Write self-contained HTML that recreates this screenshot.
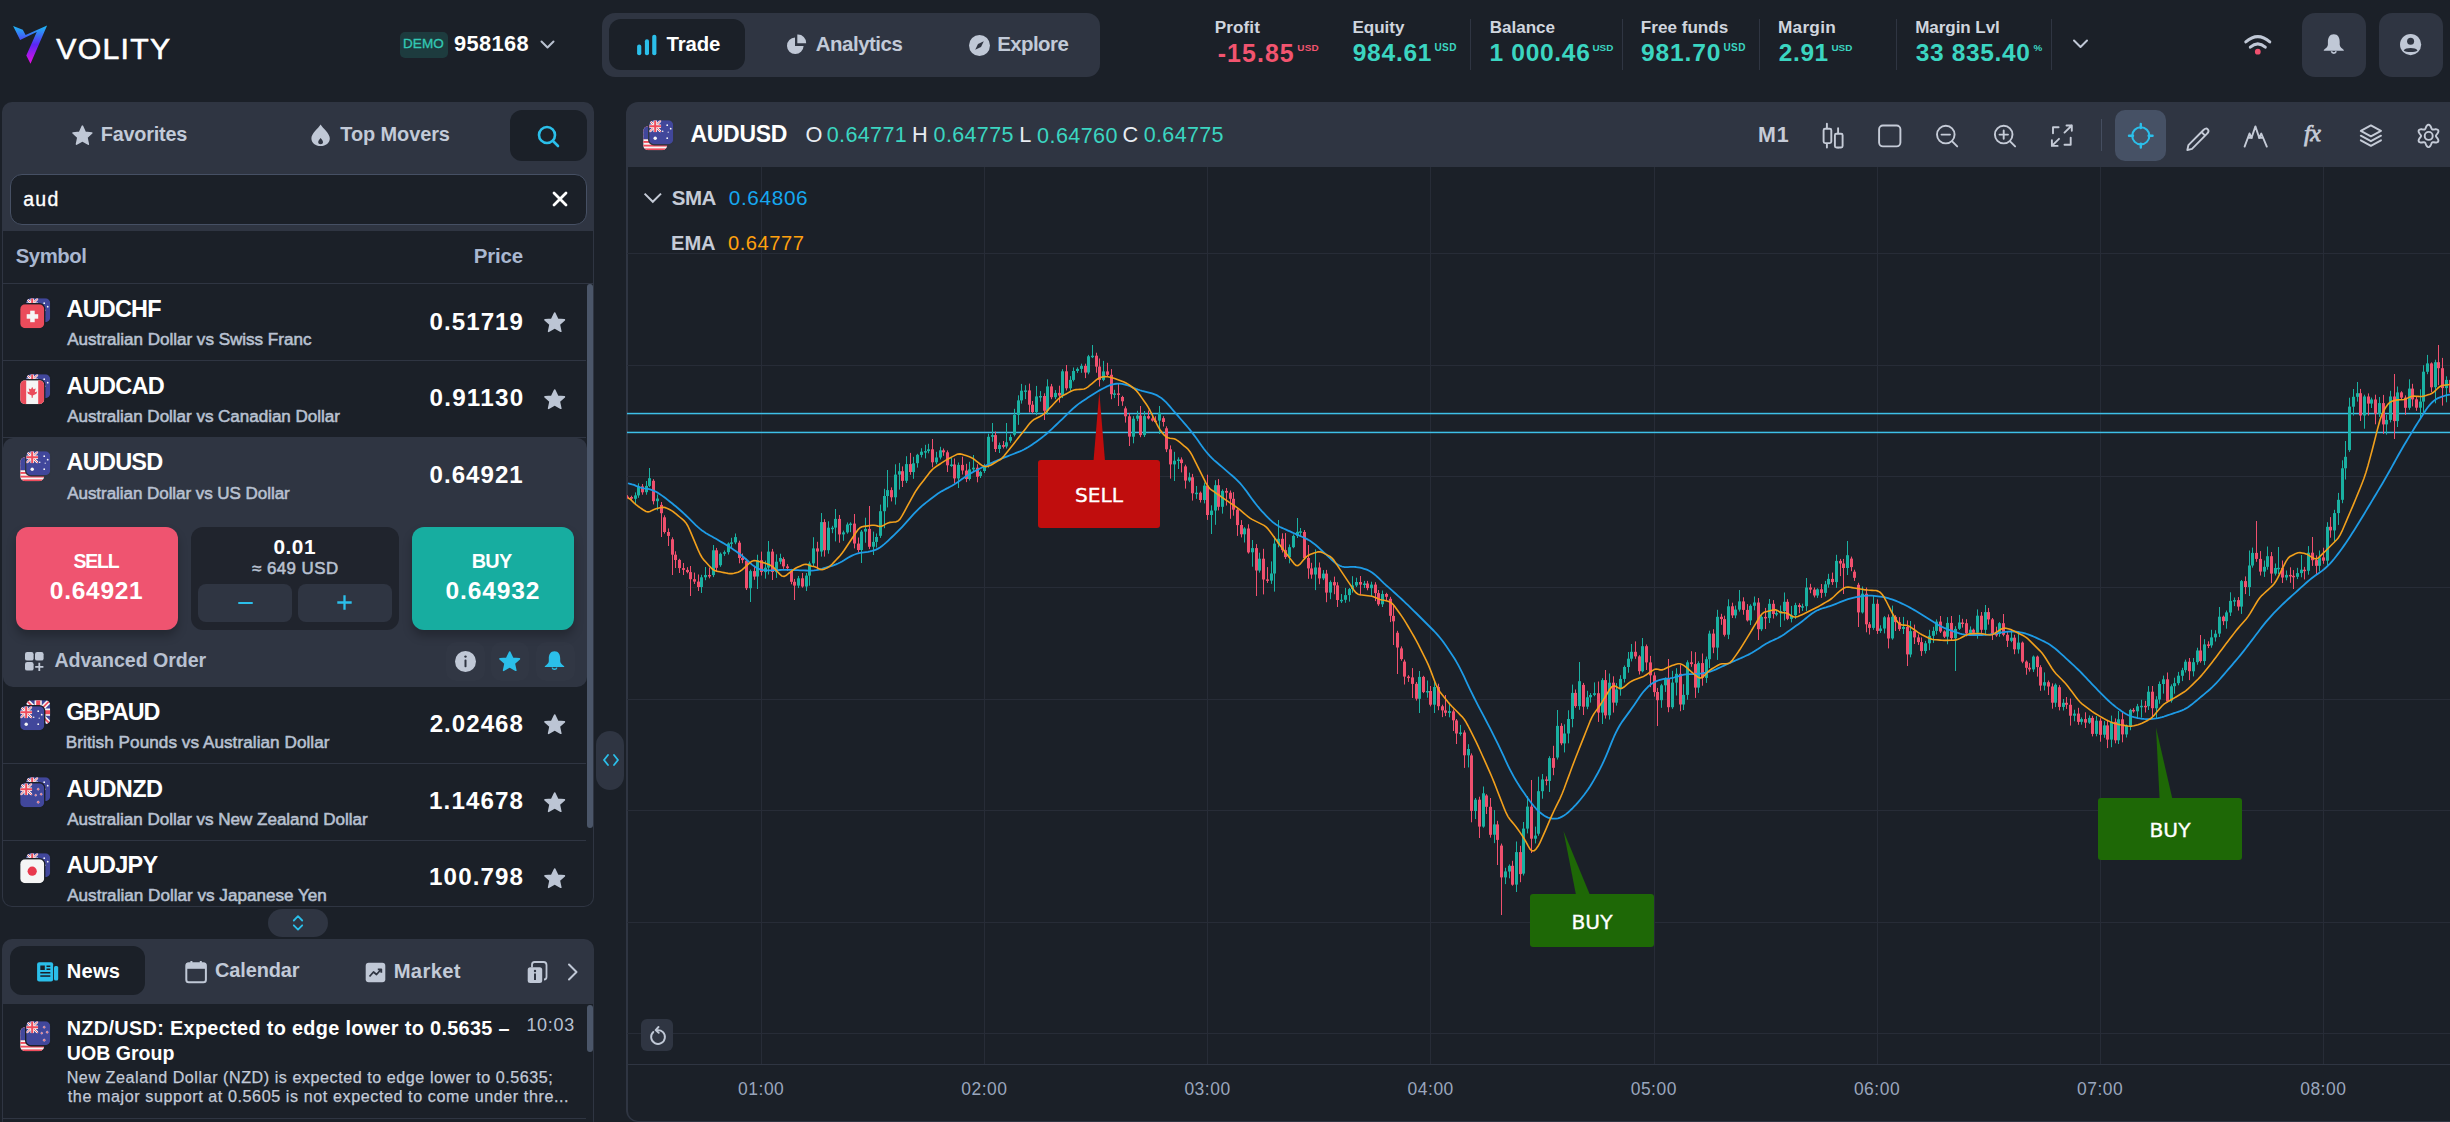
<!DOCTYPE html>
<html><head><meta charset="utf-8"><title>Volity</title><style>*{margin:0;padding:0;box-sizing:border-box}
html,body{width:2450px;height:1122px;overflow:hidden;background:#1b2028}
body{position:relative;font-family:'Liberation Sans',Arial,sans-serif}
.t{position:absolute;white-space:nowrap;line-height:1}
.b{position:absolute}
.i{position:absolute;overflow:visible}
</style></head>
<body>
<svg class="i" style="left:12px;top:24px;" width="37" height="41" viewBox="0 0 37 41"><defs><linearGradient id="lg" x1="0" y1="0" x2="0" y2="1"><stop offset="0" stop-color="#1bbcf5"/><stop offset="0.5" stop-color="#5b25f5"/><stop offset="1" stop-color="#e80ee0"/></linearGradient></defs><path d="M1.1,1.9 L10.8,5.7 L13.6,10.9 L35.1,1.6 L18.5,39.7 L14.3,31.4 L24.7,8.1 L8.1,16.1 Z" fill="url(#lg)"/></svg>
<div class="t" style="left:56.3px;top:33.8px;font-size:30.18px;color:#fff;letter-spacing:1.31px;-webkit-text-stroke:0.6px #fff;">VOLITY</div>
<div class="b" style="left:400px;top:32px;width:48px;height:26px;background:#1d3b3e;border-radius:5px;"></div>
<div class="t" style="left:402.9px;top:37.4px;font-size:13.53px;color:#33c9b4;letter-spacing:0.12px;-webkit-text-stroke:0.3px #33c9b4;">DEMO</div>
<div class="t" style="left:453.9px;top:32.9px;font-size:21.83px;color:#fff;font-weight:700;letter-spacing:0.36px;">958168</div>
<svg class="i" style="left:540px;top:40px;" width="16" height="10" viewBox="0 0 16 10"><path d="M1.5,1.5 L7.5,7.5 L13.5,1.5" fill="none" stroke="#b9c1d0" stroke-width="2" stroke-linecap="round" stroke-linejoin="round"/></svg>
<div class="b" style="left:602px;top:13px;width:498px;height:64px;background:#2f3542;border-radius:13px;"></div>
<div class="b" style="left:609px;top:19px;width:136px;height:51px;background:#1b2028;border-radius:12px;"></div>
<svg class="i" style="left:636px;top:34px;" width="22" height="22" viewBox="0 0 22 22"><g fill="#2bbfea"><rect x="1.1" y="10.4" width="4.2" height="10.9" rx="2.1"/><rect x="8.9" y="5.3" width="4.1" height="16" rx="2"/><rect x="16.2" y="0.7" width="4.2" height="20.6" rx="2.1"/></g></svg>
<div class="t" style="left:666.6px;top:33.8px;font-size:20.33px;color:#fff;font-weight:700;letter-spacing:-0.16px;">Trade</div>
<svg class="i" style="left:785px;top:33px;" width="24" height="24" viewBox="0 0 24 24"><path d="M10,4.5 A8.3,8.3 0 1 0 18.6,13.1 L10,13.1 Z" fill="#c0c8d6"/><path d="M12.3,1.5 A8.3,8.3 0 0 1 21.2,10.3 L12.3,10.3 Z" fill="#c0c8d6"/></svg>
<div class="t" style="left:815.8px;top:33.5px;font-size:20.47px;color:#c2cad8;font-weight:700;letter-spacing:-0.49px;">Analytics</div>
<svg class="i" style="left:968px;top:34px;" width="23" height="23" viewBox="0 0 23 23"><circle cx="11.5" cy="11.5" r="10.5" fill="#c0c8d6"/><path d="M15.8,7.2 L13,13 L7.2,15.8 L10,10 Z" fill="#2f3542"/></svg>
<div class="t" style="left:997.2px;top:33.5px;font-size:20.45px;color:#c2cad8;font-weight:700;letter-spacing:-0.57px;">Explore</div>
<div class="t" style="left:1214.7px;top:19.3px;font-size:17.17px;color:#d0d5de;font-weight:700;letter-spacing:0.08px;">Profit</div>
<div class="t" style="left:1217.7px;top:41.1px;font-size:24.86px;color:#f2546f;font-weight:700;letter-spacing:1.09px;">-15.85</div>
<div class="t" style="left:1297.3px;top:42.6px;font-size:9.93px;color:#f2546f;font-weight:700;letter-spacing:0.17px;">USD</div>
<div class="t" style="left:1352.5px;top:19.4px;font-size:17.07px;color:#d0d5de;font-weight:700;letter-spacing:-0.05px;">Equity</div>
<div class="t" style="left:1352.7px;top:41.3px;font-size:24.57px;color:#3bd5c1;font-weight:700;letter-spacing:0.74px;">984.61</div>
<div class="t" style="left:1434.4px;top:42.5px;font-size:10.03px;color:#3bd5c1;font-weight:700;letter-spacing:0.42px;">USD</div>
<div class="t" style="left:1489.7px;top:19.4px;font-size:17.08px;color:#d0d5de;font-weight:700;letter-spacing:-0.03px;">Balance</div>
<div class="t" style="left:1489.5px;top:41.3px;font-size:24.57px;color:#3bd5c1;font-weight:700;letter-spacing:0.68px;">1 000.46</div>
<div class="t" style="left:1592.4px;top:42.6px;font-size:9.88px;color:#3bd5c1;font-weight:700;letter-spacing:0.07px;">USD</div>
<div class="t" style="left:1640.8px;top:19.4px;font-size:17.11px;color:#d0d5de;font-weight:700;">Free funds</div>
<div class="t" style="left:1641.1px;top:41.3px;font-size:24.61px;color:#3bd5c1;font-weight:700;letter-spacing:0.81px;">981.70</div>
<div class="t" style="left:1723.4px;top:42.5px;font-size:10.03px;color:#3bd5c1;font-weight:700;letter-spacing:0.42px;">USD</div>
<div class="t" style="left:1778.0px;top:19.3px;font-size:17.26px;color:#d0d5de;font-weight:700;letter-spacing:0.23px;">Margin</div>
<div class="t" style="left:1778.8px;top:41.3px;font-size:24.46px;color:#3bd5c1;font-weight:700;letter-spacing:0.60px;">2.91</div>
<div class="t" style="left:1831.4px;top:42.6px;font-size:9.88px;color:#3bd5c1;font-weight:700;letter-spacing:0.07px;">USD</div>
<div class="t" style="left:1915.2px;top:19.4px;font-size:17.05px;color:#d0d5de;font-weight:700;letter-spacing:-0.06px;">Margin Lvl</div>
<div class="t" style="left:1915.7px;top:41.3px;font-size:24.53px;color:#3bd5c1;font-weight:700;letter-spacing:0.63px;">33 835.40</div>
<div class="t" style="left:2033.5px;top:42.6px;font-size:9.86px;color:#3bd5c1;font-weight:700;">%</div>
<div class="b" style="left:1470px;top:19px;width:1px;height:51px;background:#2f3542;"></div>
<div class="b" style="left:1622px;top:19px;width:1px;height:51px;background:#2f3542;"></div>
<div class="b" style="left:1759px;top:19px;width:1px;height:51px;background:#2f3542;"></div>
<div class="b" style="left:1896px;top:19px;width:1px;height:51px;background:#2f3542;"></div>
<div class="b" style="left:2051px;top:19px;width:1px;height:51px;background:#2f3542;"></div>
<svg class="i" style="left:2072px;top:38px;" width="17" height="13" viewBox="0 0 17 13"><path d="M2,2.5 L8.5,9 L15,2.5" fill="none" stroke="#c0c8d6" stroke-width="2" stroke-linecap="round" stroke-linejoin="round"/></svg>
<svg class="i" style="left:2242px;top:33px;" width="32" height="24" viewBox="0 0 32 24"><path d="M3.8,8.9 Q15.8,-1.6 27.8,8.9" fill="none" stroke="#c0c8d6" stroke-width="3" stroke-linecap="round"/><path d="M8.3,14.2 Q15.8,7.6 23.3,14.2" fill="none" stroke="#c0c8d6" stroke-width="3" stroke-linecap="round"/><circle cx="15.8" cy="18.7" r="2.9" fill="#f0506e"/></svg>
<div class="b" style="left:2302px;top:13px;width:64px;height:64px;background:#2f3542;border-radius:13px;"></div>
<div class="b" style="left:2379px;top:13px;width:64px;height:64px;background:#2f3542;border-radius:13px;"></div>
<svg class="i" style="left:2322px;top:33px;" width="24" height="24" viewBox="0 0 24 24"><path d="M11.8,1.2 C16,1.2 17.7,4.7 17.7,8.8 L17.7,11.8 C17.7,14 20.2,15.6 21.8,16.9 L21.8,17.8 L1.8,17.8 L1.8,16.9 C3.4,15.6 5.9,14 5.9,11.8 L5.9,8.8 C5.9,4.7 7.6,1.2 11.8,1.2 Z" fill="#c0c8d6"/><path d="M9.4,18.3 A2.5,2.5 0 0 0 14.2,18.3" fill="none" stroke="#c0c8d6" stroke-width="1.6"/></svg>
<svg class="i" style="left:2399px;top:33px;" width="24" height="24" viewBox="0 0 24 24"><circle cx="11.6" cy="11.6" r="10.6" fill="#c0c8d6"/><circle cx="11.6" cy="8.3" r="3.5" fill="#2f3542"/><path d="M4.7,17.5 C6.5,14.3 16.7,14.3 18.5,17.5 C16.5,19.6 6.7,19.6 4.7,17.5 Z" fill="#2f3542"/></svg>
<div class="b" style="left:2px;top:102px;width:592px;height:805px;background:#2f3542;border-radius:10px;"></div>
<div class="b" style="left:3px;top:231px;width:590px;height:675px;background:#1b2028;border-radius:0 0 9px 9px;"></div>
<svg class="i" style="left:71px;top:125px;" width="24" height="22" viewBox="0 0 24 22"><path d="M11.4,1.2 L14.2,7.3 L20.8,8 L15.9,12.5 L17.3,19.1 L11.4,15.7 L5.5,19.1 L6.9,12.5 L2,8 L8.6,7.3 Z" fill="#c0c8d6" stroke="#c0c8d6" stroke-width="1.6" stroke-linejoin="round"/></svg>
<div class="t" style="left:100.8px;top:125.0px;font-size:19.83px;color:#c2cad8;font-weight:700;letter-spacing:-0.21px;">Favorites</div>
<svg class="i" style="left:310px;top:124px;" width="22" height="23" viewBox="0 0 22 23"><path d="M10.6,0.5 C13,4.5 19.8,9.5 19.8,14.2 C19.8,19 15.8,22 10.6,22 C5.4,22 1.4,19 1.4,14.2 C1.4,9.5 8.2,4.5 10.6,0.5 Z" fill="#c0c8d6"/><path d="M10.6,14 C11.6,15.5 13,16.6 13,18.3 C13,19.5 12,20.2 10.6,20.2 C9.2,20.2 8.2,19.5 8.2,18.3 C8.2,16.6 9.6,15.5 10.6,14 Z" fill="#2f3542"/></svg>
<div class="t" style="left:340.3px;top:124.9px;font-size:19.94px;color:#c2cad8;font-weight:700;letter-spacing:-0.09px;">Top Movers</div>
<div class="b" style="left:510px;top:110px;width:77px;height:51px;background:#1b2028;border-radius:12px;"></div>
<svg class="i" style="left:536px;top:124px;" width="26" height="26" viewBox="0 0 26 26"><circle cx="11" cy="11" r="8" fill="none" stroke="#2bbfea" stroke-width="2.6"/><path d="M17,17 L22,22" stroke="#2bbfea" stroke-width="2.6" stroke-linecap="round"/></svg>
<div class="b" style="left:10px;top:174px;width:577px;height:51px;background:#1b2028;border-radius:12px;box-sizing:border-box;border:1px solid #465064;"></div>
<div class="t" style="left:23.2px;top:189.5px;font-size:19.50px;color:#fff;letter-spacing:1.34px;-webkit-text-stroke:0.35px #fff;">aud</div>
<svg class="i" style="left:551px;top:190px;" width="18" height="18" viewBox="0 0 18 18"><path d="M3,3 L15,15 M15,3 L3,15" stroke="#fff" stroke-width="2.8" stroke-linecap="round"/></svg>
<div class="t" style="left:15.8px;top:245.7px;font-size:20.30px;color:#a9b7d0;font-weight:700;letter-spacing:-0.45px;">Symbol</div>
<div class="t" style="left:473.7px;top:245.7px;font-size:20.48px;color:#a9b7d0;font-weight:700;letter-spacing:-0.13px;">Price</div>
<div class="b" style="left:3px;top:283px;width:590px;height:1px;background:#2f3542;"></div>
<div class="b" style="left:3px;top:360px;width:583px;height:1px;background:#2f3542;"></div>
<div class="b" style="left:3px;top:437px;width:583px;height:1px;background:#2f3542;"></div>
<div class="b" style="left:3px;top:763px;width:583px;height:1px;background:#2f3542;"></div>
<div class="b" style="left:3px;top:840px;width:583px;height:1px;background:#2f3542;"></div>
<div class="b" style="left:587px;top:284px;width:6px;height:544px;background:#4b5669;border-radius:3px;"></div>
<svg class="i" style="left:18.8px;top:296.8px" width="33" height="33" viewBox="0 0 33 33"><rect x="6.0" y="0.0" width="26.4" height="26.4" rx="6" fill="#1b2028"/><clipPath id="fc1"><rect x="0" y="0" width="24" height="24" rx="5"/></clipPath><g transform="translate(7.2,1.2)" clip-path="url(#fc1)"><rect width="24" height="24" fill="#41479b"/><svg width="12" height="12" viewBox="0 0 12 12" overflow="hidden"><rect width="12" height="12" fill="#41479b"/><path d="M0,0 L12,12 M12,0 L0,12" stroke="#f5f5f5" stroke-width="2.40"/><path d="M0,0 L12,12 M12,0 L0,12" stroke="#ef4b5b" stroke-width="0.84"/><path d="M6.0,0 V12 M0,6.0 H12" stroke="#f5f5f5" stroke-width="3.60"/><path d="M6.0,0 V12 M0,6.0 H12" stroke="#ef4b5b" stroke-width="2.04"/></svg><g fill="#f5f5f5"><circle cx="6" cy="18" r="1.7"/><circle cx="18" cy="5" r="0.9"/><circle cx="21.5" cy="8.5" r="0.9"/><circle cx="13.5" cy="11" r="0.8"/><circle cx="19" cy="12" r="0.6"/><circle cx="18" cy="18" r="0.9"/></g></g><rect x="0.0" y="6.0" width="26.4" height="26.4" rx="6" fill="#1b2028"/><clipPath id="fc2"><rect x="0" y="0" width="24" height="24" rx="5"/></clipPath><g transform="translate(1.2,7.2)" clip-path="url(#fc2)"><rect width="24" height="24" fill="#ea4c5b"/><rect x="6.5" y="10" width="11.5" height="4.5" fill="#f5f5f5"/><rect x="10" y="6.5" width="4.5" height="11.5" fill="#f5f5f5"/></g></svg>
<div class="t" style="left:66.6px;top:298.0px;font-size:23.48px;color:#fff;font-weight:700;letter-spacing:-0.82px;">AUDCHF</div>
<div class="t" style="left:67.2px;top:331.4px;font-size:17.08px;color:#b8c1d1;letter-spacing:-0.02px;-webkit-text-stroke:0.55px #b8c1d1;">Australian Dollar vs Swiss Franc</div>
<div class="t" style="left:429.5px;top:309.6px;font-size:24.13px;color:#fff;font-weight:700;letter-spacing:1.05px;">0.51719</div>
<svg class="i" style="left:543px;top:311px;" width="24" height="23" viewBox="0 0 24 23"><path d="M11.7,2 L14.6,8.2 L21.4,8.9 L16.3,13.5 L17.8,20.3 L11.7,16.8 L5.6,20.3 L7.1,13.5 L2,8.9 L8.8,8.2 Z" fill="#bcc5d4" stroke="#bcc5d4" stroke-width="1.6" stroke-linejoin="round"/></svg>
<svg class="i" style="left:18.8px;top:373.40000000000003px" width="33" height="33" viewBox="0 0 33 33"><rect x="6.0" y="0.0" width="26.4" height="26.4" rx="6" fill="#1b2028"/><clipPath id="fc3"><rect x="0" y="0" width="24" height="24" rx="5"/></clipPath><g transform="translate(7.2,1.2)" clip-path="url(#fc3)"><rect width="24" height="24" fill="#41479b"/><svg width="12" height="12" viewBox="0 0 12 12" overflow="hidden"><rect width="12" height="12" fill="#41479b"/><path d="M0,0 L12,12 M12,0 L0,12" stroke="#f5f5f5" stroke-width="2.40"/><path d="M0,0 L12,12 M12,0 L0,12" stroke="#ef4b5b" stroke-width="0.84"/><path d="M6.0,0 V12 M0,6.0 H12" stroke="#f5f5f5" stroke-width="3.60"/><path d="M6.0,0 V12 M0,6.0 H12" stroke="#ef4b5b" stroke-width="2.04"/></svg><g fill="#f5f5f5"><circle cx="6" cy="18" r="1.7"/><circle cx="18" cy="5" r="0.9"/><circle cx="21.5" cy="8.5" r="0.9"/><circle cx="13.5" cy="11" r="0.8"/><circle cx="19" cy="12" r="0.6"/><circle cx="18" cy="18" r="0.9"/></g></g><rect x="0.0" y="6.0" width="26.4" height="26.4" rx="6" fill="#1b2028"/><clipPath id="fc4"><rect x="0" y="0" width="24" height="24" rx="5"/></clipPath><g transform="translate(1.2,7.2)" clip-path="url(#fc4)"><rect width="24" height="24" fill="#f5f5f5"/><rect width="6" height="24" fill="#ea4c5b"/><rect x="18" width="6" height="24" fill="#ea4c5b"/><path d="M12,6.5 L13.2,9 L15.5,8.2 L14.6,12 L17,11.2 L16.2,13.5 L12.6,15.2 L12.6,17.5 L11.4,17.5 L11.4,15.2 L7.8,13.5 L7,11.2 L9.4,12 L8.5,8.2 L10.8,9 Z" fill="#ea4c5b"/></g></svg>
<div class="t" style="left:66.6px;top:374.6px;font-size:23.52px;color:#fff;font-weight:700;letter-spacing:-0.76px;">AUDCAD</div>
<div class="t" style="left:67.2px;top:408.0px;font-size:17.07px;color:#b8c1d1;letter-spacing:-0.04px;-webkit-text-stroke:0.55px #b8c1d1;">Australian Dollar vs Canadian Dollar</div>
<div class="t" style="left:429.5px;top:386.2px;font-size:24.25px;color:#fff;font-weight:700;letter-spacing:1.22px;">0.91130</div>
<svg class="i" style="left:543px;top:387.6px;" width="24" height="23" viewBox="0 0 24 23"><path d="M11.7,2 L14.6,8.2 L21.4,8.9 L16.3,13.5 L17.8,20.3 L11.7,16.8 L5.6,20.3 L7.1,13.5 L2,8.9 L8.8,8.2 Z" fill="#bcc5d4" stroke="#bcc5d4" stroke-width="1.6" stroke-linejoin="round"/></svg>
<div class="b" style="left:3px;top:438px;width:584px;height:249px;background:#2f3542;border-radius:10px;"></div>
<svg class="i" style="left:18.8px;top:450.0px" width="33" height="33" viewBox="0 0 33 33"><rect x="0.0" y="6.0" width="26.4" height="26.4" rx="6" fill="#2f3542"/><clipPath id="fc5"><rect x="0" y="0" width="24" height="24" rx="5"/></clipPath><g transform="translate(1.2,7.2)" clip-path="url(#fc5)"><rect width="24" height="24" fill="#f5f5f5"/><rect y="0.00" width="24" height="1.85" fill="#ef4b5b"/><rect y="3.70" width="24" height="1.85" fill="#ef4b5b"/><rect y="7.40" width="24" height="1.85" fill="#ef4b5b"/><rect y="11.10" width="24" height="1.85" fill="#ef4b5b"/><rect y="14.80" width="24" height="1.85" fill="#ef4b5b"/><rect y="18.50" width="24" height="1.85" fill="#ef4b5b"/><rect y="22.20" width="24" height="1.85" fill="#ef4b5b"/><rect width="11" height="13" fill="#41479b"/></g><rect x="6.0" y="0.0" width="26.4" height="26.4" rx="6" fill="#2f3542"/><clipPath id="fc6"><rect x="0" y="0" width="24" height="24" rx="5"/></clipPath><g transform="translate(7.2,1.2)" clip-path="url(#fc6)"><rect width="24" height="24" fill="#41479b"/><svg width="12" height="12" viewBox="0 0 12 12" overflow="hidden"><rect width="12" height="12" fill="#41479b"/><path d="M0,0 L12,12 M12,0 L0,12" stroke="#f5f5f5" stroke-width="2.40"/><path d="M0,0 L12,12 M12,0 L0,12" stroke="#ef4b5b" stroke-width="0.84"/><path d="M6.0,0 V12 M0,6.0 H12" stroke="#f5f5f5" stroke-width="3.60"/><path d="M6.0,0 V12 M0,6.0 H12" stroke="#ef4b5b" stroke-width="2.04"/></svg><g fill="#f5f5f5"><circle cx="6" cy="18" r="1.7"/><circle cx="18" cy="5" r="0.9"/><circle cx="21.5" cy="8.5" r="0.9"/><circle cx="13.5" cy="11" r="0.8"/><circle cx="19" cy="12" r="0.6"/><circle cx="18" cy="18" r="0.9"/></g></g></svg>
<div class="t" style="left:66.6px;top:451.2px;font-size:23.50px;color:#fff;font-weight:700;letter-spacing:-0.79px;">AUDUSD</div>
<div class="t" style="left:67.2px;top:484.6px;font-size:17.04px;color:#b8c1d1;letter-spacing:-0.06px;-webkit-text-stroke:0.55px #b8c1d1;">Australian Dollar vs US Dollar</div>
<div class="t" style="left:429.5px;top:462.9px;font-size:24.11px;color:#fff;font-weight:700;letter-spacing:1.02px;">0.64921</div>
<div class="b" style="left:16px;top:527px;width:162px;height:103px;background:#ef5470;border-radius:12px;box-shadow:0 6px 10px rgba(0,0,0,0.25);"></div>
<div class="t" style="left:73.6px;top:552.4px;font-size:19.47px;color:#fff;font-weight:700;letter-spacing:-1.23px;">SELL</div>
<div class="t" style="left:49.8px;top:578.7px;font-size:24.49px;color:#fff;font-weight:700;letter-spacing:0.74px;">0.64921</div>
<div class="b" style="left:191px;top:527px;width:208px;height:103px;background:#20242d;border-radius:12px;"></div>
<div class="t" style="left:273.4px;top:537.0px;font-size:20.80px;color:#fff;font-weight:700;letter-spacing:0.57px;">0.01</div>
<div class="t" style="left:252.0px;top:560.7px;font-size:16.85px;color:#b8c1d1;letter-spacing:0.48px;-webkit-text-stroke:0.55px #b8c1d1;">≈ 649 USD</div>
<div class="b" style="left:198px;top:584px;width:94px;height:38px;background:#2f3542;border-radius:8px;"></div>
<div class="b" style="left:298px;top:584px;width:94px;height:38px;background:#2f3542;border-radius:8px;"></div>
<div class="b" style="left:238px;top:601.5px;width:15px;height:2.2999999999999545px;background:#2bbfea;border-radius:1px;"></div>
<svg class="i" style="left:336px;top:594px;" width="17" height="17" viewBox="0 0 17 17"><path d="M1.3,8.5 H15.7 M8.5,1.3 V15.7" stroke="#2bbfea" stroke-width="2.3"/></svg>
<div class="b" style="left:412px;top:527px;width:162px;height:103px;background:#17ada0;border-radius:12px;box-shadow:0 6px 10px rgba(0,0,0,0.25);"></div>
<div class="t" style="left:471.7px;top:552.2px;font-size:19.86px;color:#fff;font-weight:700;letter-spacing:-0.66px;">BUY</div>
<div class="t" style="left:445.6px;top:578.6px;font-size:24.56px;color:#fff;font-weight:700;letter-spacing:0.85px;">0.64932</div>
<svg class="i" style="left:24px;top:651px;" width="22" height="22" viewBox="0 0 22 22"><g fill="#c0c8d6"><rect x="1" y="1" width="8.6" height="8.6" rx="2.2"/><rect x="11" y="1" width="8.6" height="8.6" rx="2.2"/><rect x="1" y="11" width="8.6" height="8.6" rx="2.2"/></g><path d="M15.3,11.8 V20 M11.2,15.9 H19.4" stroke="#c0c8d6" stroke-width="1.8"/></svg>
<div class="t" style="left:54.4px;top:651.3px;font-size:19.65px;color:#b8c1d1;font-weight:700;letter-spacing:-0.08px;">Advanced Order</div>
<div class="b" style="left:446px;top:642px;width:39px;height:39px;background:rgba(255,255,255,0.012);border-radius:10px;"></div>
<div class="b" style="left:491px;top:642px;width:38px;height:39px;background:rgba(255,255,255,0.012);border-radius:10px;"></div>
<div class="b" style="left:536px;top:642px;width:39px;height:39px;background:rgba(255,255,255,0.012);border-radius:10px;"></div>
<svg class="i" style="left:454px;top:650px;" width="23" height="23" viewBox="0 0 23 23"><circle cx="11.5" cy="11.5" r="10.5" fill="#c0c8d6"/><rect x="10.5" y="9.6" width="2" height="7.6" rx="0.8" fill="#2f3542"/><circle cx="11.5" cy="6.6" r="1.2" fill="#2f3542"/></svg>
<svg class="i" style="left:498px;top:650px;" width="24" height="23" viewBox="0 0 24 23"><path d="M11.7,2 L14.6,8.2 L21.4,8.9 L16.3,13.5 L17.8,20.3 L11.7,16.8 L5.6,20.3 L7.1,13.5 L2,8.9 L8.8,8.2 Z" fill="#2bbfea" stroke="#2bbfea" stroke-width="1.6" stroke-linejoin="round"/></svg>
<svg class="i" style="left:543px;top:650px;" width="23" height="23" viewBox="0 0 23 23"><path d="M11.5,1.2 C15.6,1.2 17.2,4.6 17.2,8.6 L17.2,11.3 C17.2,13.4 19.6,14.9 21.2,16.2 L21.2,17.1 L1.8,17.1 L1.8,16.2 C3.4,14.9 5.8,13.4 5.8,11.3 L5.8,8.6 C5.8,4.6 7.4,1.2 11.5,1.2 Z" fill="#2bbfea"/><path d="M9.2,17.6 A2.4,2.4 0 0 0 13.8,17.6" fill="none" stroke="#2bbfea" stroke-width="1.5"/></svg>
<svg class="i" style="left:18.8px;top:699.1999999999999px" width="33" height="33" viewBox="0 0 33 33"><rect x="6.0" y="0.0" width="26.4" height="26.4" rx="6" fill="#1b2028"/><clipPath id="fc7"><rect x="0" y="0" width="24" height="24" rx="5"/></clipPath><g transform="translate(7.2,1.2)" clip-path="url(#fc7)"><rect width="24" height="24" fill="#41479b"/><path d="M0,0 L24,24 M24,0 L0,24" stroke="#f5f5f5" stroke-width="4.80"/><path d="M0,0 L24,24 M24,0 L0,24" stroke="#ef4b5b" stroke-width="1.68"/><path d="M12.0,0 V24 M0,12.0 H24" stroke="#f5f5f5" stroke-width="7.20"/><path d="M12.0,0 V24 M0,12.0 H24" stroke="#ef4b5b" stroke-width="4.08"/></g><rect x="0.0" y="6.0" width="26.4" height="26.4" rx="6" fill="#1b2028"/><clipPath id="fc8"><rect x="0" y="0" width="24" height="24" rx="5"/></clipPath><g transform="translate(1.2,7.2)" clip-path="url(#fc8)"><rect width="24" height="24" fill="#41479b"/><svg width="12" height="12" viewBox="0 0 12 12" overflow="hidden"><rect width="12" height="12" fill="#41479b"/><path d="M0,0 L12,12 M12,0 L0,12" stroke="#f5f5f5" stroke-width="2.40"/><path d="M0,0 L12,12 M12,0 L0,12" stroke="#ef4b5b" stroke-width="0.84"/><path d="M6.0,0 V12 M0,6.0 H12" stroke="#f5f5f5" stroke-width="3.60"/><path d="M6.0,0 V12 M0,6.0 H12" stroke="#ef4b5b" stroke-width="2.04"/></svg><g fill="#f5f5f5"><circle cx="6" cy="18" r="1.7"/><circle cx="18" cy="5" r="0.9"/><circle cx="21.5" cy="8.5" r="0.9"/><circle cx="13.5" cy="11" r="0.8"/><circle cx="19" cy="12" r="0.6"/><circle cx="18" cy="18" r="0.9"/></g></g></svg>
<div class="t" style="left:66.3px;top:700.5px;font-size:23.33px;color:#fff;font-weight:700;letter-spacing:-1.08px;">GBPAUD</div>
<div class="t" style="left:65.8px;top:733.7px;font-size:17.15px;color:#b8c1d1;letter-spacing:0.05px;-webkit-text-stroke:0.55px #b8c1d1;">British Pounds vs Australian Dollar</div>
<div class="t" style="left:429.7px;top:712.1px;font-size:24.11px;color:#fff;font-weight:700;letter-spacing:1.02px;">2.02468</div>
<svg class="i" style="left:543px;top:713.4px;" width="24" height="23" viewBox="0 0 24 23"><path d="M11.7,2 L14.6,8.2 L21.4,8.9 L16.3,13.5 L17.8,20.3 L11.7,16.8 L5.6,20.3 L7.1,13.5 L2,8.9 L8.8,8.2 Z" fill="#bcc5d4" stroke="#bcc5d4" stroke-width="1.6" stroke-linejoin="round"/></svg>
<svg class="i" style="left:18.8px;top:776.4px" width="33" height="33" viewBox="0 0 33 33"><rect x="6.0" y="0.0" width="26.4" height="26.4" rx="6" fill="#1b2028"/><clipPath id="fc9"><rect x="0" y="0" width="24" height="24" rx="5"/></clipPath><g transform="translate(7.2,1.2)" clip-path="url(#fc9)"><rect width="24" height="24" fill="#41479b"/><svg width="12" height="12" viewBox="0 0 12 12" overflow="hidden"><rect width="12" height="12" fill="#41479b"/><path d="M0,0 L12,12 M12,0 L0,12" stroke="#f5f5f5" stroke-width="2.40"/><path d="M0,0 L12,12 M12,0 L0,12" stroke="#ef4b5b" stroke-width="0.84"/><path d="M6.0,0 V12 M0,6.0 H12" stroke="#f5f5f5" stroke-width="3.60"/><path d="M6.0,0 V12 M0,6.0 H12" stroke="#ef4b5b" stroke-width="2.04"/></svg><g fill="#f5f5f5"><circle cx="6" cy="18" r="1.7"/><circle cx="18" cy="5" r="0.9"/><circle cx="21.5" cy="8.5" r="0.9"/><circle cx="13.5" cy="11" r="0.8"/><circle cx="19" cy="12" r="0.6"/><circle cx="18" cy="18" r="0.9"/></g></g><rect x="0.0" y="6.0" width="26.4" height="26.4" rx="6" fill="#1b2028"/><clipPath id="fc10"><rect x="0" y="0" width="24" height="24" rx="5"/></clipPath><g transform="translate(1.2,7.2)" clip-path="url(#fc10)"><rect width="24" height="24" fill="#41479b"/><svg width="12" height="12" viewBox="0 0 12 12" overflow="hidden"><rect width="12" height="12" fill="#41479b"/><path d="M0,0 L12,12 M12,0 L0,12" stroke="#f5f5f5" stroke-width="2.40"/><path d="M0,0 L12,12 M12,0 L0,12" stroke="#ef4b5b" stroke-width="0.84"/><path d="M6.0,0 V12 M0,6.0 H12" stroke="#f5f5f5" stroke-width="3.60"/><path d="M6.0,0 V12 M0,6.0 H12" stroke="#ef4b5b" stroke-width="2.04"/></svg><g fill="#ef4b5b" stroke="#f5f5f5" stroke-width="0.5"><circle cx="18" cy="6" r="1"/><circle cx="21" cy="11" r="1"/><circle cx="15.5" cy="12" r="0.9"/><circle cx="18" cy="19" r="1.1"/></g></g></svg>
<div class="t" style="left:66.6px;top:777.5px;font-size:23.59px;color:#fff;font-weight:700;letter-spacing:-0.61px;">AUDNZD</div>
<div class="t" style="left:67.2px;top:811.0px;font-size:17.07px;color:#b8c1d1;letter-spacing:-0.03px;-webkit-text-stroke:0.55px #b8c1d1;">Australian Dollar vs New Zealand Dollar</div>
<div class="t" style="left:429.1px;top:789.2px;font-size:24.16px;color:#fff;font-weight:700;letter-spacing:1.09px;">1.14678</div>
<svg class="i" style="left:543px;top:790.6px;" width="24" height="23" viewBox="0 0 24 23"><path d="M11.7,2 L14.6,8.2 L21.4,8.9 L16.3,13.5 L17.8,20.3 L11.7,16.8 L5.6,20.3 L7.1,13.5 L2,8.9 L8.8,8.2 Z" fill="#bcc5d4" stroke="#bcc5d4" stroke-width="1.6" stroke-linejoin="round"/></svg>
<svg class="i" style="left:18.8px;top:852.4px" width="33" height="33" viewBox="0 0 33 33"><rect x="6.0" y="0.0" width="26.4" height="26.4" rx="6" fill="#1b2028"/><clipPath id="fc11"><rect x="0" y="0" width="24" height="24" rx="5"/></clipPath><g transform="translate(7.2,1.2)" clip-path="url(#fc11)"><rect width="24" height="24" fill="#41479b"/><svg width="12" height="12" viewBox="0 0 12 12" overflow="hidden"><rect width="12" height="12" fill="#41479b"/><path d="M0,0 L12,12 M12,0 L0,12" stroke="#f5f5f5" stroke-width="2.40"/><path d="M0,0 L12,12 M12,0 L0,12" stroke="#ef4b5b" stroke-width="0.84"/><path d="M6.0,0 V12 M0,6.0 H12" stroke="#f5f5f5" stroke-width="3.60"/><path d="M6.0,0 V12 M0,6.0 H12" stroke="#ef4b5b" stroke-width="2.04"/></svg><g fill="#f5f5f5"><circle cx="6" cy="18" r="1.7"/><circle cx="18" cy="5" r="0.9"/><circle cx="21.5" cy="8.5" r="0.9"/><circle cx="13.5" cy="11" r="0.8"/><circle cx="19" cy="12" r="0.6"/><circle cx="18" cy="18" r="0.9"/></g></g><rect x="0.0" y="6.0" width="26.4" height="26.4" rx="6" fill="#1b2028"/><clipPath id="fc12"><rect x="0" y="0" width="24" height="24" rx="5"/></clipPath><g transform="translate(1.2,7.2)" clip-path="url(#fc12)"><rect width="24" height="24" fill="#f5f5f5"/><circle cx="12" cy="12" r="4.6" fill="#e8394d"/></g></svg>
<div class="t" style="left:66.6px;top:853.6px;font-size:23.49px;color:#fff;font-weight:700;letter-spacing:-0.76px;">AUDJPY</div>
<div class="t" style="left:67.2px;top:887.0px;font-size:17.12px;color:#b8c1d1;-webkit-text-stroke:0.55px #b8c1d1;">Australian Dollar vs Japanese Yen</div>
<div class="t" style="left:429.1px;top:865.2px;font-size:24.16px;color:#fff;font-weight:700;letter-spacing:1.09px;">100.798</div>
<svg class="i" style="left:543px;top:866.6px;" width="24" height="23" viewBox="0 0 24 23"><path d="M11.7,2 L14.6,8.2 L21.4,8.9 L16.3,13.5 L17.8,20.3 L11.7,16.8 L5.6,20.3 L7.1,13.5 L2,8.9 L8.8,8.2 Z" fill="#bcc5d4" stroke="#bcc5d4" stroke-width="1.6" stroke-linejoin="round"/></svg>
<div class="b" style="left:0px;top:907px;width:600px;height:32px;background:#1b2028;"></div>
<div class="b" style="left:268px;top:909px;width:60px;height:28px;background:#2f3542;border-radius:14px;"></div>
<svg class="i" style="left:290px;top:913px;" width="16" height="20" viewBox="0 0 16 20"><path d="M3.8,7.5 L8,3.2 L12.2,7.5 M3.8,12.3 L8,16.6 L12.2,12.3" fill="none" stroke="#2bbfea" stroke-width="1.8" stroke-linecap="round" stroke-linejoin="round"/></svg>
<div class="b" style="left:596px;top:731px;width:28px;height:59px;background:#2f3542;border-radius:14px;"></div>
<svg class="i" style="left:601px;top:752px;" width="20" height="16" viewBox="0 0 20 16"><path d="M7,3 L3,8 L7,13 M13,3 L17,8 L13,13" fill="none" stroke="#2bbfea" stroke-width="1.8" stroke-linecap="round" stroke-linejoin="round"/></svg>
<div class="b" style="left:2px;top:939px;width:592px;height:191px;background:#2f3542;border-radius:10px;"></div>
<div class="b" style="left:3px;top:1004px;width:590px;height:126px;background:#1b2028;"></div>
<div class="b" style="left:10px;top:946px;width:135px;height:49px;background:#1b2028;border-radius:12px;"></div>
<svg class="i" style="left:36px;top:961px;" width="24" height="22" viewBox="0 0 24 22"><rect x="1.1" y="1.2" width="16" height="19.4" rx="2" fill="#2bbfea"/><rect x="18" y="5" width="4.2" height="14.6" rx="1.5" fill="#2bbfea"/><g fill="#1b2028"><rect x="4.3" y="4.5" width="4.5" height="4.5"/><rect x="10.5" y="4.5" width="3.8" height="1.5"/><rect x="10.5" y="7.5" width="3.8" height="1.5"/><rect x="4.3" y="11" width="10" height="1.5"/><rect x="4.3" y="14.3" width="10" height="1.5"/></g></svg>
<div class="t" style="left:66.7px;top:960.8px;font-size:20.13px;color:#fff;font-weight:700;letter-spacing:0.26px;">News</div>
<svg class="i" style="left:184px;top:960px;" width="24" height="24" viewBox="0 0 24 24"><rect x="2.3" y="3.3" width="19.6" height="19" rx="2.5" fill="none" stroke="#c0c8d6" stroke-width="2"/><rect x="2.3" y="3.3" width="19.6" height="5.5" fill="#c0c8d6"/><path d="M7.4,1 V5 M16.8,1 V5" stroke="#c0c8d6" stroke-width="2"/></svg>
<div class="t" style="left:215.1px;top:960.9px;font-size:19.91px;color:#c2cad8;font-weight:700;letter-spacing:-0.12px;">Calendar</div>
<svg class="i" style="left:365px;top:962px;" width="21" height="21" viewBox="0 0 21 21"><rect x="0.7" y="0.7" width="19.6" height="19.6" rx="3" fill="#c0c8d6"/><path d="M4.5,14.5 L8.5,10 L11.5,12.5 L16,7.5 M12.8,7.3 H16.3 V10.8" fill="none" stroke="#2f3542" stroke-width="1.8" stroke-linejoin="round"/></svg>
<div class="t" style="left:393.7px;top:960.8px;font-size:20.23px;color:#c2cad8;font-weight:700;letter-spacing:0.34px;">Market</div>
<svg class="i" style="left:526px;top:960px;" width="23" height="24" viewBox="0 0 23 24"><rect x="1.7" y="7.2" width="14.5" height="15.8" rx="2.5" fill="#c0c8d6"/><path d="M6,7.5 V4.5 Q6,2 8.5,2 H17.5 Q20.5,2 20.5,5 V17 Q20.5,19.5 18,19.5" fill="none" stroke="#c0c8d6" stroke-width="1.8"/><rect x="8" y="13.5" width="2" height="6.5" fill="#2f3542"/><circle cx="9" cy="11" r="1.2" fill="#2f3542"/></svg>
<svg class="i" style="left:565px;top:962px;" width="16" height="20" viewBox="0 0 16 20"><path d="M4,2.5 L11.5,10 L4,17.5" fill="none" stroke="#c0c8d6" stroke-width="2" stroke-linecap="round" stroke-linejoin="round"/></svg>
<svg class="i" style="left:18.8px;top:1019.8px" width="33" height="33" viewBox="0 0 33 33"><rect x="0.0" y="6.0" width="26.4" height="26.4" rx="6" fill="#1b2028"/><clipPath id="fc13"><rect x="0" y="0" width="24" height="24" rx="5"/></clipPath><g transform="translate(1.2,7.2)" clip-path="url(#fc13)"><rect width="24" height="24" fill="#f5f5f5"/><rect y="0.00" width="24" height="1.85" fill="#ef4b5b"/><rect y="3.70" width="24" height="1.85" fill="#ef4b5b"/><rect y="7.40" width="24" height="1.85" fill="#ef4b5b"/><rect y="11.10" width="24" height="1.85" fill="#ef4b5b"/><rect y="14.80" width="24" height="1.85" fill="#ef4b5b"/><rect y="18.50" width="24" height="1.85" fill="#ef4b5b"/><rect y="22.20" width="24" height="1.85" fill="#ef4b5b"/><rect width="11" height="13" fill="#41479b"/></g><rect x="6.0" y="0.0" width="26.4" height="26.4" rx="6" fill="#1b2028"/><clipPath id="fc14"><rect x="0" y="0" width="24" height="24" rx="5"/></clipPath><g transform="translate(7.2,1.2)" clip-path="url(#fc14)"><rect width="24" height="24" fill="#41479b"/><svg width="12" height="12" viewBox="0 0 12 12" overflow="hidden"><rect width="12" height="12" fill="#41479b"/><path d="M0,0 L12,12 M12,0 L0,12" stroke="#f5f5f5" stroke-width="2.40"/><path d="M0,0 L12,12 M12,0 L0,12" stroke="#ef4b5b" stroke-width="0.84"/><path d="M6.0,0 V12 M0,6.0 H12" stroke="#f5f5f5" stroke-width="3.60"/><path d="M6.0,0 V12 M0,6.0 H12" stroke="#ef4b5b" stroke-width="2.04"/></svg><g fill="#ef4b5b" stroke="#f5f5f5" stroke-width="0.5"><circle cx="18" cy="6" r="1"/><circle cx="21" cy="11" r="1"/><circle cx="15.5" cy="12" r="0.9"/><circle cx="18" cy="19" r="1.1"/></g></g></svg>
<div class="t" style="left:66.7px;top:1019.1px;font-size:19.84px;color:#fff;font-weight:700;letter-spacing:0.34px;">NZD/USD: Expected to edge lower to 0.5635 –</div>
<div class="t" style="left:66.8px;top:1044.4px;font-size:19.57px;color:#fff;font-weight:700;">UOB Group</div>
<div class="t" style="left:526.4px;top:1017.3px;font-size:17.94px;color:#b8c1d1;letter-spacing:0.73px;">10:03</div>
<div class="t" style="left:66.7px;top:1069.3px;font-size:16.13px;color:#c2cad8;letter-spacing:0.55px;-webkit-text-stroke:0.25px #c2cad8;">New Zealand Dollar (NZD) is expected to edge lower to 0.5635;</div>
<div class="t" style="left:67.8px;top:1088.2px;font-size:16.17px;color:#c2cad8;letter-spacing:0.57px;-webkit-text-stroke:0.25px #c2cad8;">the major support at 0.5605 is not expected to come under thre...</div>
<div class="b" style="left:3px;top:1118px;width:583px;height:1px;background:#2f3542;"></div>
<div class="b" style="left:587px;top:1005px;width:6px;height:47px;background:#4b5669;border-radius:3px;"></div>
<div class="b" style="left:626px;top:102px;width:1844px;height:1020px;background:#2f3542;border-radius:12px;"></div>
<div class="b" style="left:628px;top:167px;width:1842px;height:954px;background:#1b2028;border-radius:0 0 0 10px;"></div>
<svg style="position:absolute;left:627px;top:167px" width="1823" height="897" viewBox="627 167 1823 897">
<g fill="#272c37"><rect x="627" y="253" width="1823" height="1"/><rect x="627" y="365" width="1823" height="1"/><rect x="627" y="476" width="1823" height="1"/><rect x="627" y="587" width="1823" height="1"/><rect x="627" y="699" width="1823" height="1"/><rect x="627" y="810" width="1823" height="1"/><rect x="627" y="922" width="1823" height="1"/><rect x="627" y="1033" width="1823" height="1"/><rect x="761" y="167" width="1" height="897"/><rect x="984" y="167" width="1" height="897"/><rect x="1207" y="167" width="1" height="897"/><rect x="1430" y="167" width="1" height="897"/><rect x="1654" y="167" width="1" height="897"/><rect x="1877" y="167" width="1" height="897"/><rect x="2100" y="167" width="1" height="897"/><rect x="2323" y="167" width="1" height="897"/></g>
<rect x="627" y="412.8" width="1823" height="1.5" fill="#3ec0e8"/>
<rect x="627" y="431.7" width="1823" height="1.5" fill="#3ec0e8"/>
<g fill="#1ab1a2"><rect x="635" y="492.4" width="1" height="11.6"/><rect x="634" y="495.4" width="3" height="3.4"/><rect x="638" y="483.3" width="1" height="14.5"/><rect x="637" y="486.4" width="3" height="9.0"/><rect x="646" y="481.0" width="1" height="13.7"/><rect x="645" y="485.9" width="3" height="6.3"/><rect x="649" y="468.0" width="1" height="19.1"/><rect x="648" y="478.2" width="3" height="7.7"/><rect x="657" y="494.5" width="1" height="15.9"/><rect x="656" y="498.6" width="3" height="2.6"/><rect x="701" y="574.8" width="1" height="18.2"/><rect x="700" y="577.3" width="3" height="9.7"/><rect x="705" y="567.0" width="1" height="13.2"/><rect x="704" y="575.0" width="3" height="2.3"/><rect x="713" y="545.0" width="1" height="32.1"/><rect x="712" y="550.3" width="3" height="24.8"/><rect x="720" y="552.5" width="1" height="14.3"/><rect x="719" y="553.8" width="3" height="11.4"/><rect x="724" y="550.5" width="1" height="5.4"/><rect x="723" y="552.2" width="3" height="1.6"/><rect x="728" y="542.4" width="1" height="12.1"/><rect x="727" y="543.5" width="3" height="8.7"/><rect x="731" y="537.8" width="1" height="9.7"/><rect x="730" y="542.4" width="3" height="1.5"/><rect x="735" y="533.5" width="1" height="10.7"/><rect x="734" y="537.1" width="3" height="5.3"/><rect x="750" y="569.6" width="1" height="32.4"/><rect x="749" y="571.1" width="3" height="17.1"/><rect x="757" y="554.7" width="1" height="34.3"/><rect x="756" y="560.2" width="3" height="16.3"/><rect x="765" y="560.6" width="1" height="18.0"/><rect x="764" y="567.7" width="3" height="4.4"/><rect x="768" y="541.0" width="1" height="33.5"/><rect x="767" y="551.6" width="3" height="16.0"/><rect x="776" y="554.3" width="1" height="23.6"/><rect x="775" y="561.7" width="3" height="10.4"/><rect x="780" y="553.7" width="1" height="10.5"/><rect x="779" y="558.0" width="3" height="3.6"/><rect x="798" y="575.9" width="1" height="12.2"/><rect x="797" y="578.3" width="3" height="7.3"/><rect x="806" y="573.0" width="1" height="18.0"/><rect x="805" y="575.6" width="3" height="10.9"/><rect x="809" y="561.5" width="1" height="24.2"/><rect x="808" y="563.4" width="3" height="12.2"/><rect x="813" y="537.2" width="1" height="29.4"/><rect x="812" y="548.4" width="3" height="15.0"/><rect x="821" y="513.0" width="1" height="43.6"/><rect x="820" y="522.1" width="3" height="29.4"/><rect x="828" y="521.3" width="1" height="32.4"/><rect x="827" y="527.7" width="3" height="22.5"/><rect x="832" y="525.8" width="1" height="7.4"/><rect x="831" y="527.7" width="3" height="1.5"/><rect x="835" y="509.0" width="1" height="32.4"/><rect x="834" y="518.9" width="3" height="8.7"/><rect x="843" y="530.6" width="1" height="10.2"/><rect x="842" y="532.4" width="3" height="2.0"/><rect x="847" y="522.5" width="1" height="11.2"/><rect x="846" y="524.5" width="3" height="7.9"/><rect x="850" y="522.3" width="1" height="9.9"/><rect x="849" y="523.6" width="3" height="1.5"/><rect x="861" y="530.0" width="1" height="33.0"/><rect x="860" y="531.6" width="3" height="18.4"/><rect x="865" y="517.7" width="1" height="25.0"/><rect x="864" y="528.9" width="3" height="2.7"/><rect x="873" y="531.6" width="1" height="23.4"/><rect x="872" y="541.9" width="3" height="4.8"/><rect x="876" y="533.5" width="1" height="14.0"/><rect x="875" y="537.0" width="3" height="4.9"/><rect x="880" y="504.6" width="1" height="33.3"/><rect x="879" y="511.2" width="3" height="24.6"/><rect x="884" y="488.8" width="1" height="39.4"/><rect x="883" y="496.0" width="3" height="15.2"/><rect x="887" y="470.0" width="1" height="37.4"/><rect x="886" y="490.1" width="3" height="5.9"/><rect x="895" y="464.3" width="1" height="40.3"/><rect x="894" y="474.6" width="3" height="22.7"/><rect x="899" y="462.9" width="1" height="26.7"/><rect x="898" y="471.2" width="3" height="3.4"/><rect x="906" y="456.2" width="1" height="26.8"/><rect x="905" y="464.1" width="3" height="16.7"/><rect x="913" y="456.8" width="1" height="22.0"/><rect x="912" y="463.3" width="3" height="8.8"/><rect x="917" y="453.8" width="1" height="13.8"/><rect x="916" y="454.8" width="3" height="8.4"/><rect x="921" y="448.2" width="1" height="9.2"/><rect x="920" y="451.7" width="3" height="3.2"/><rect x="925" y="444.8" width="1" height="13.6"/><rect x="924" y="451.1" width="3" height="1.5"/><rect x="928" y="443.8" width="1" height="9.5"/><rect x="927" y="449.3" width="3" height="1.8"/><rect x="936" y="451.8" width="1" height="12.4"/><rect x="935" y="457.5" width="3" height="4.8"/><rect x="940" y="446.8" width="1" height="12.6"/><rect x="939" y="450.3" width="3" height="7.2"/><rect x="951" y="457.5" width="1" height="9.4"/><rect x="950" y="464.5" width="3" height="1.5"/><rect x="958" y="462.5" width="1" height="25.5"/><rect x="957" y="464.9" width="3" height="13.5"/><rect x="969" y="461.8" width="1" height="18.7"/><rect x="968" y="469.4" width="3" height="9.6"/><rect x="973" y="455.0" width="1" height="16.3"/><rect x="972" y="467.7" width="3" height="1.7"/><rect x="980" y="470.7" width="1" height="7.3"/><rect x="979" y="472.0" width="3" height="4.0"/><rect x="984" y="463.8" width="1" height="9.2"/><rect x="983" y="466.3" width="3" height="4.7"/><rect x="988" y="433.7" width="1" height="34.0"/><rect x="987" y="436.8" width="3" height="29.1"/><rect x="992" y="423.0" width="1" height="18.7"/><rect x="991" y="435.1" width="3" height="1.7"/><rect x="999" y="442.6" width="1" height="10.4"/><rect x="998" y="445.1" width="3" height="3.9"/><rect x="1006" y="423.0" width="1" height="25.5"/><rect x="1005" y="442.3" width="3" height="4.2"/><rect x="1010" y="434.5" width="1" height="8.2"/><rect x="1009" y="437.0" width="3" height="3.7"/><rect x="1014" y="408.8" width="1" height="27.6"/><rect x="1013" y="414.9" width="3" height="19.9"/><rect x="1018" y="395.3" width="1" height="29.5"/><rect x="1017" y="400.4" width="3" height="14.5"/><rect x="1021" y="383.9" width="1" height="19.7"/><rect x="1020" y="390.7" width="3" height="9.7"/><rect x="1025" y="385.2" width="1" height="13.9"/><rect x="1024" y="390.4" width="3" height="1.5"/><rect x="1036" y="385.9" width="1" height="29.4"/><rect x="1035" y="396.4" width="3" height="15.6"/><rect x="1040" y="391.1" width="1" height="10.5"/><rect x="1039" y="396.0" width="3" height="1.5"/><rect x="1047" y="379.3" width="1" height="35.3"/><rect x="1046" y="386.4" width="3" height="24.4"/><rect x="1055" y="390.1" width="1" height="9.0"/><rect x="1054" y="392.9" width="3" height="4.3"/><rect x="1062" y="369.2" width="1" height="28.8"/><rect x="1061" y="371.3" width="3" height="24.2"/><rect x="1070" y="376.1" width="1" height="14.7"/><rect x="1069" y="379.9" width="3" height="8.4"/><rect x="1073" y="367.5" width="1" height="13.9"/><rect x="1072" y="371.0" width="3" height="8.9"/><rect x="1077" y="367.4" width="1" height="5.5"/><rect x="1076" y="368.9" width="3" height="2.1"/><rect x="1081" y="363.7" width="1" height="9.1"/><rect x="1080" y="365.9" width="3" height="3.0"/><rect x="1088" y="354.9" width="1" height="19.4"/><rect x="1087" y="356.3" width="3" height="16.2"/><rect x="1092" y="345.0" width="1" height="13.1"/><rect x="1091" y="355.7" width="3" height="1.5"/><rect x="1103" y="360.9" width="1" height="20.3"/><rect x="1102" y="371.4" width="3" height="8.5"/><rect x="1114" y="389.8" width="1" height="8.3"/><rect x="1113" y="393.4" width="3" height="1.5"/><rect x="1133" y="416.1" width="1" height="27.2"/><rect x="1132" y="418.7" width="3" height="18.0"/><rect x="1137" y="410.8" width="1" height="10.3"/><rect x="1136" y="415.6" width="3" height="3.1"/><rect x="1144" y="411.0" width="1" height="26.0"/><rect x="1143" y="416.1" width="3" height="19.0"/><rect x="1159" y="406.0" width="1" height="28.0"/><rect x="1158" y="412.7" width="3" height="7.9"/><rect x="1174" y="451.8" width="1" height="29.2"/><rect x="1173" y="460.7" width="3" height="3.7"/><rect x="1178" y="457.3" width="1" height="11.7"/><rect x="1177" y="459.5" width="3" height="1.5"/><rect x="1189" y="472.6" width="1" height="9.6"/><rect x="1188" y="477.3" width="3" height="3.3"/><rect x="1196" y="486.0" width="1" height="12.8"/><rect x="1195" y="492.7" width="3" height="1.5"/><rect x="1204" y="482.5" width="1" height="20.9"/><rect x="1203" y="485.6" width="3" height="14.4"/><rect x="1211" y="505.3" width="1" height="28.7"/><rect x="1210" y="510.6" width="3" height="4.4"/><rect x="1215" y="480.2" width="1" height="44.6"/><rect x="1214" y="485.2" width="3" height="25.3"/><rect x="1222" y="489.4" width="1" height="24.2"/><rect x="1221" y="490.9" width="3" height="15.9"/><rect x="1244" y="527.2" width="1" height="15.3"/><rect x="1243" y="528.5" width="3" height="5.8"/><rect x="1252" y="540.0" width="1" height="26.7"/><rect x="1251" y="548.1" width="3" height="4.2"/><rect x="1259" y="552.7" width="1" height="19.9"/><rect x="1258" y="558.7" width="3" height="11.9"/><rect x="1271" y="561.4" width="1" height="22.5"/><rect x="1270" y="573.5" width="3" height="7.1"/><rect x="1274" y="536.3" width="1" height="55.3"/><rect x="1273" y="543.6" width="3" height="29.9"/><rect x="1278" y="520.0" width="1" height="27.3"/><rect x="1277" y="538.8" width="3" height="4.8"/><rect x="1289" y="544.5" width="1" height="18.8"/><rect x="1288" y="547.2" width="3" height="10.0"/><rect x="1293" y="534.4" width="1" height="13.8"/><rect x="1292" y="535.9" width="3" height="11.3"/><rect x="1297" y="518.0" width="1" height="20.0"/><rect x="1296" y="531.8" width="3" height="4.1"/><rect x="1300" y="528.0" width="1" height="8.2"/><rect x="1299" y="531.3" width="3" height="1.5"/><rect x="1315" y="549.4" width="1" height="40.7"/><rect x="1314" y="567.5" width="3" height="7.0"/><rect x="1323" y="570.1" width="1" height="10.0"/><rect x="1322" y="573.6" width="3" height="4.8"/><rect x="1330" y="580.5" width="1" height="18.7"/><rect x="1329" y="582.1" width="3" height="10.5"/><rect x="1341" y="594.0" width="1" height="9.0"/><rect x="1340" y="599.8" width="3" height="1.5"/><rect x="1345" y="587.9" width="1" height="14.9"/><rect x="1344" y="595.1" width="3" height="4.7"/><rect x="1349" y="588.0" width="1" height="13.6"/><rect x="1348" y="589.1" width="3" height="6.0"/><rect x="1352" y="576.2" width="1" height="16.5"/><rect x="1351" y="585.4" width="3" height="3.7"/><rect x="1356" y="577.7" width="1" height="9.3"/><rect x="1355" y="582.0" width="3" height="3.4"/><rect x="1364" y="580.9" width="1" height="7.1"/><rect x="1363" y="583.5" width="3" height="1.5"/><rect x="1371" y="581.7" width="1" height="14.4"/><rect x="1370" y="584.6" width="3" height="3.6"/><rect x="1382" y="590.5" width="1" height="16.5"/><rect x="1381" y="594.0" width="3" height="10.3"/><rect x="1419" y="671.0" width="1" height="42.0"/><rect x="1418" y="676.9" width="3" height="21.9"/><rect x="1427" y="680.5" width="1" height="17.2"/><rect x="1426" y="691.0" width="3" height="1.5"/><rect x="1434" y="680.0" width="1" height="33.0"/><rect x="1433" y="687.0" width="3" height="17.7"/><rect x="1449" y="703.9" width="1" height="13.4"/><rect x="1448" y="711.1" width="3" height="1.8"/><rect x="1460" y="724.9" width="1" height="10.8"/><rect x="1459" y="732.5" width="3" height="1.5"/><rect x="1468" y="744.2" width="1" height="23.2"/><rect x="1467" y="749.0" width="3" height="6.3"/><rect x="1475" y="798.0" width="1" height="21.0"/><rect x="1474" y="799.7" width="3" height="11.3"/><rect x="1483" y="786.5" width="1" height="41.2"/><rect x="1482" y="793.3" width="3" height="33.3"/><rect x="1494" y="810.1" width="1" height="33.0"/><rect x="1493" y="824.4" width="3" height="10.3"/><rect x="1505" y="867.8" width="1" height="16.3"/><rect x="1504" y="871.4" width="3" height="6.0"/><rect x="1509" y="864.4" width="1" height="13.9"/><rect x="1508" y="865.8" width="3" height="5.7"/><rect x="1516" y="841.5" width="1" height="50.5"/><rect x="1515" y="852.1" width="3" height="32.5"/><rect x="1523" y="822.0" width="1" height="53.5"/><rect x="1522" y="828.6" width="3" height="45.0"/><rect x="1527" y="796.1" width="1" height="37.3"/><rect x="1526" y="806.6" width="3" height="22.0"/><rect x="1535" y="826.6" width="1" height="16.8"/><rect x="1534" y="835.6" width="3" height="3.1"/><rect x="1538" y="776.7" width="1" height="59.0"/><rect x="1537" y="791.2" width="3" height="42.5"/><rect x="1542" y="774.0" width="1" height="24.7"/><rect x="1541" y="779.4" width="3" height="11.8"/><rect x="1549" y="756.2" width="1" height="35.8"/><rect x="1548" y="758.1" width="3" height="22.8"/><rect x="1557" y="710.0" width="1" height="49.5"/><rect x="1556" y="725.9" width="3" height="31.6"/><rect x="1564" y="724.3" width="1" height="28.1"/><rect x="1563" y="733.5" width="3" height="9.9"/><rect x="1568" y="710.3" width="1" height="33.0"/><rect x="1567" y="719.0" width="3" height="14.5"/><rect x="1572" y="684.6" width="1" height="42.7"/><rect x="1571" y="692.9" width="3" height="26.1"/><rect x="1579" y="662.0" width="1" height="47.8"/><rect x="1578" y="681.2" width="3" height="24.9"/><rect x="1587" y="690.8" width="1" height="18.4"/><rect x="1586" y="697.3" width="3" height="9.4"/><rect x="1590" y="693.1" width="1" height="9.5"/><rect x="1589" y="695.0" width="3" height="2.3"/><rect x="1594" y="682.4" width="1" height="13.8"/><rect x="1593" y="693.2" width="3" height="1.7"/><rect x="1602" y="678.2" width="1" height="45.8"/><rect x="1601" y="680.1" width="3" height="32.5"/><rect x="1609" y="673.5" width="1" height="46.0"/><rect x="1608" y="682.7" width="3" height="32.6"/><rect x="1616" y="683.1" width="1" height="22.5"/><rect x="1615" y="689.5" width="3" height="13.2"/><rect x="1620" y="675.2" width="1" height="20.5"/><rect x="1619" y="678.9" width="3" height="10.5"/><rect x="1624" y="665.5" width="1" height="17.0"/><rect x="1623" y="667.0" width="3" height="11.9"/><rect x="1628" y="652.0" width="1" height="20.7"/><rect x="1627" y="658.7" width="3" height="8.3"/><rect x="1631" y="644.0" width="1" height="17.4"/><rect x="1630" y="651.8" width="3" height="6.9"/><rect x="1642" y="638.0" width="1" height="34.4"/><rect x="1641" y="646.2" width="3" height="25.1"/><rect x="1661" y="683.8" width="1" height="24.0"/><rect x="1660" y="685.3" width="3" height="14.9"/><rect x="1665" y="677.4" width="1" height="14.5"/><rect x="1664" y="678.6" width="3" height="6.7"/><rect x="1672" y="670.8" width="1" height="38.0"/><rect x="1671" y="682.6" width="3" height="24.6"/><rect x="1676" y="668.2" width="1" height="27.3"/><rect x="1675" y="673.8" width="3" height="8.8"/><rect x="1683" y="684.2" width="1" height="25.8"/><rect x="1682" y="694.9" width="3" height="9.6"/><rect x="1687" y="660.3" width="1" height="39.4"/><rect x="1686" y="662.3" width="3" height="32.6"/><rect x="1698" y="661.3" width="1" height="31.6"/><rect x="1697" y="663.1" width="3" height="24.5"/><rect x="1706" y="656.6" width="1" height="26.3"/><rect x="1705" y="659.2" width="3" height="18.7"/><rect x="1709" y="630.7" width="1" height="37.3"/><rect x="1708" y="633.6" width="3" height="25.6"/><rect x="1717" y="609.8" width="1" height="50.1"/><rect x="1716" y="616.8" width="3" height="30.8"/><rect x="1728" y="599.3" width="1" height="39.8"/><rect x="1727" y="606.3" width="3" height="28.4"/><rect x="1735" y="605.6" width="1" height="12.7"/><rect x="1734" y="609.6" width="3" height="5.8"/><rect x="1739" y="590.0" width="1" height="21.6"/><rect x="1738" y="601.4" width="3" height="8.2"/><rect x="1750" y="604.3" width="1" height="20.7"/><rect x="1749" y="605.8" width="3" height="14.6"/><rect x="1754" y="596.5" width="1" height="13.8"/><rect x="1753" y="602.5" width="3" height="3.3"/><rect x="1761" y="615.3" width="1" height="15.8"/><rect x="1760" y="616.9" width="3" height="12.4"/><rect x="1769" y="599.0" width="1" height="24.0"/><rect x="1768" y="603.8" width="3" height="14.3"/><rect x="1776" y="609.9" width="1" height="6.3"/><rect x="1775" y="613.1" width="3" height="1.5"/><rect x="1780" y="605.5" width="1" height="21.5"/><rect x="1779" y="611.0" width="3" height="2.2"/><rect x="1784" y="592.5" width="1" height="28.0"/><rect x="1783" y="601.8" width="3" height="9.2"/><rect x="1791" y="605.9" width="1" height="16.5"/><rect x="1790" y="615.3" width="3" height="3.6"/><rect x="1795" y="602.8" width="1" height="16.2"/><rect x="1794" y="605.1" width="3" height="10.1"/><rect x="1802" y="603.7" width="1" height="7.3"/><rect x="1801" y="606.2" width="3" height="1.5"/><rect x="1806" y="578.0" width="1" height="32.9"/><rect x="1805" y="587.5" width="3" height="18.7"/><rect x="1817" y="588.3" width="1" height="9.6"/><rect x="1816" y="589.3" width="3" height="6.2"/><rect x="1825" y="580.9" width="1" height="15.6"/><rect x="1824" y="584.3" width="3" height="8.6"/><rect x="1828" y="573.8" width="1" height="13.9"/><rect x="1827" y="578.9" width="3" height="5.5"/><rect x="1836" y="554.8" width="1" height="33.0"/><rect x="1835" y="560.9" width="3" height="21.2"/><rect x="1847" y="541.0" width="1" height="34.0"/><rect x="1846" y="555.2" width="3" height="12.8"/><rect x="1862" y="586.5" width="1" height="27.0"/><rect x="1861" y="593.7" width="3" height="18.7"/><rect x="1873" y="595.3" width="1" height="34.5"/><rect x="1872" y="603.8" width="3" height="24.1"/><rect x="1880" y="625.3" width="1" height="7.6"/><rect x="1879" y="628.5" width="3" height="2.4"/><rect x="1884" y="616.1" width="1" height="17.3"/><rect x="1883" y="617.3" width="3" height="11.2"/><rect x="1892" y="605.6" width="1" height="34.1"/><rect x="1891" y="616.8" width="3" height="21.6"/><rect x="1903" y="616.9" width="1" height="17.1"/><rect x="1902" y="627.0" width="3" height="2.0"/><rect x="1910" y="621.0" width="1" height="36.3"/><rect x="1909" y="631.1" width="3" height="23.4"/><rect x="1925" y="640.9" width="1" height="12.6"/><rect x="1924" y="643.3" width="3" height="7.7"/><rect x="1929" y="629.8" width="1" height="20.4"/><rect x="1928" y="635.8" width="3" height="7.5"/><rect x="1933" y="626.8" width="1" height="16.1"/><rect x="1932" y="630.9" width="3" height="4.9"/><rect x="1936" y="619.4" width="1" height="15.1"/><rect x="1935" y="621.6" width="3" height="9.3"/><rect x="1947" y="617.1" width="1" height="27.2"/><rect x="1946" y="622.9" width="3" height="13.8"/><rect x="1955" y="626.2" width="1" height="44.8"/><rect x="1954" y="628.9" width="3" height="9.3"/><rect x="1959" y="614.9" width="1" height="15.1"/><rect x="1958" y="622.5" width="3" height="6.3"/><rect x="1970" y="626.4" width="1" height="8.3"/><rect x="1969" y="629.7" width="3" height="3.7"/><rect x="1977" y="609.4" width="1" height="29.3"/><rect x="1976" y="615.7" width="3" height="17.0"/><rect x="1985" y="605.0" width="1" height="30.5"/><rect x="1984" y="612.1" width="3" height="17.7"/><rect x="1999" y="622.1" width="1" height="14.7"/><rect x="1998" y="623.2" width="3" height="10.8"/><rect x="2011" y="629.6" width="1" height="12.6"/><rect x="2010" y="637.7" width="3" height="3.1"/><rect x="2018" y="631.3" width="1" height="22.3"/><rect x="2017" y="642.6" width="3" height="6.8"/><rect x="2033" y="655.5" width="1" height="16.5"/><rect x="2032" y="656.6" width="3" height="12.8"/><rect x="2044" y="672.4" width="1" height="18.0"/><rect x="2043" y="682.2" width="3" height="3.4"/><rect x="2055" y="683.4" width="1" height="23.7"/><rect x="2054" y="684.7" width="3" height="18.0"/><rect x="2063" y="699.0" width="1" height="11.5"/><rect x="2062" y="702.8" width="3" height="4.1"/><rect x="2074" y="709.7" width="1" height="11.6"/><rect x="2073" y="713.6" width="3" height="2.1"/><rect x="2081" y="717.4" width="1" height="7.2"/><rect x="2080" y="719.1" width="3" height="2.7"/><rect x="2089" y="715.4" width="1" height="8.5"/><rect x="2088" y="717.9" width="3" height="4.8"/><rect x="2096" y="716.1" width="1" height="20.2"/><rect x="2095" y="720.7" width="3" height="13.2"/><rect x="2104" y="721.1" width="1" height="16.7"/><rect x="2103" y="725.4" width="3" height="9.3"/><rect x="2111" y="715.6" width="1" height="31.6"/><rect x="2110" y="721.8" width="3" height="17.8"/><rect x="2118" y="711.0" width="1" height="33.0"/><rect x="2117" y="719.3" width="3" height="21.0"/><rect x="2126" y="724.5" width="1" height="13.0"/><rect x="2125" y="726.0" width="3" height="8.4"/><rect x="2130" y="708.8" width="1" height="21.4"/><rect x="2129" y="709.9" width="3" height="16.1"/><rect x="2137" y="703.9" width="1" height="14.9"/><rect x="2136" y="706.3" width="3" height="5.0"/><rect x="2141" y="699.8" width="1" height="17.8"/><rect x="2140" y="705.8" width="3" height="1.5"/><rect x="2148" y="686.1" width="1" height="23.9"/><rect x="2147" y="691.7" width="3" height="14.5"/><rect x="2156" y="696.2" width="1" height="22.0"/><rect x="2155" y="699.5" width="3" height="8.8"/><rect x="2159" y="681.5" width="1" height="22.2"/><rect x="2158" y="684.0" width="3" height="15.5"/><rect x="2163" y="675.6" width="1" height="18.0"/><rect x="2162" y="679.3" width="3" height="4.7"/><rect x="2171" y="684.4" width="1" height="18.2"/><rect x="2170" y="686.3" width="3" height="14.4"/><rect x="2174" y="677.7" width="1" height="16.0"/><rect x="2173" y="683.2" width="3" height="3.0"/><rect x="2178" y="671.9" width="1" height="13.4"/><rect x="2177" y="675.7" width="3" height="7.5"/><rect x="2182" y="667.8" width="1" height="13.3"/><rect x="2181" y="670.2" width="3" height="5.6"/><rect x="2185" y="659.6" width="1" height="12.9"/><rect x="2184" y="661.7" width="3" height="8.4"/><rect x="2193" y="658.0" width="1" height="18.4"/><rect x="2192" y="662.2" width="3" height="9.1"/><rect x="2197" y="647.7" width="1" height="17.0"/><rect x="2196" y="650.5" width="3" height="11.7"/><rect x="2204" y="639.2" width="1" height="25.9"/><rect x="2203" y="644.4" width="3" height="16.7"/><rect x="2211" y="629.8" width="1" height="17.9"/><rect x="2210" y="637.4" width="3" height="8.0"/><rect x="2215" y="630.2" width="1" height="11.3"/><rect x="2214" y="633.7" width="3" height="3.7"/><rect x="2219" y="607.0" width="1" height="30.0"/><rect x="2218" y="616.7" width="3" height="16.9"/><rect x="2226" y="610.5" width="1" height="18.2"/><rect x="2225" y="612.4" width="3" height="8.8"/><rect x="2230" y="592.3" width="1" height="23.7"/><rect x="2229" y="600.9" width="3" height="11.6"/><rect x="2234" y="597.5" width="1" height="8.6"/><rect x="2233" y="600.1" width="3" height="1.5"/><rect x="2241" y="580.0" width="1" height="33.9"/><rect x="2240" y="581.1" width="3" height="25.5"/><rect x="2249" y="550.5" width="1" height="45.5"/><rect x="2248" y="565.5" width="3" height="21.6"/><rect x="2252" y="547.6" width="1" height="20.0"/><rect x="2251" y="552.9" width="3" height="12.6"/><rect x="2264" y="560.5" width="1" height="16.4"/><rect x="2263" y="566.8" width="3" height="4.8"/><rect x="2267" y="546.5" width="1" height="23.2"/><rect x="2266" y="556.2" width="3" height="10.6"/><rect x="2275" y="563.5" width="1" height="12.0"/><rect x="2274" y="568.0" width="3" height="5.6"/><rect x="2278" y="547.0" width="1" height="27.1"/><rect x="2277" y="567.8" width="3" height="1.5"/><rect x="2286" y="570.5" width="1" height="9.8"/><rect x="2285" y="574.9" width="3" height="2.6"/><rect x="2297" y="567.8" width="1" height="11.3"/><rect x="2296" y="573.1" width="3" height="3.7"/><rect x="2301" y="555.0" width="1" height="22.3"/><rect x="2300" y="569.7" width="3" height="3.4"/><rect x="2308" y="546.1" width="1" height="28.6"/><rect x="2307" y="552.7" width="3" height="18.1"/><rect x="2319" y="550.5" width="1" height="20.9"/><rect x="2318" y="557.4" width="3" height="8.4"/><rect x="2327" y="522.2" width="1" height="43.5"/><rect x="2326" y="526.8" width="3" height="33.9"/><rect x="2334" y="509.8" width="1" height="32.3"/><rect x="2333" y="513.1" width="3" height="17.3"/><rect x="2338" y="492.9" width="1" height="32.0"/><rect x="2337" y="499.8" width="3" height="13.3"/><rect x="2342" y="460.3" width="1" height="42.9"/><rect x="2341" y="468.3" width="3" height="31.5"/><rect x="2345" y="441.0" width="1" height="38.5"/><rect x="2344" y="456.8" width="3" height="11.5"/><rect x="2349" y="397.7" width="1" height="54.2"/><rect x="2348" y="406.6" width="3" height="43.5"/><rect x="2353" y="389.0" width="1" height="26.5"/><rect x="2352" y="396.8" width="3" height="9.9"/><rect x="2357" y="382.0" width="1" height="19.6"/><rect x="2356" y="393.2" width="3" height="3.6"/><rect x="2364" y="394.7" width="1" height="34.0"/><rect x="2363" y="396.5" width="3" height="19.0"/><rect x="2371" y="397.6" width="1" height="10.4"/><rect x="2370" y="399.5" width="3" height="4.1"/><rect x="2379" y="397.0" width="1" height="19.9"/><rect x="2378" y="403.1" width="3" height="10.6"/><rect x="2386" y="414.8" width="1" height="19.8"/><rect x="2385" y="419.9" width="3" height="4.5"/><rect x="2390" y="390.8" width="1" height="31.6"/><rect x="2389" y="396.5" width="3" height="23.4"/><rect x="2397" y="386.5" width="1" height="40.5"/><rect x="2396" y="392.4" width="3" height="28.7"/><rect x="2409" y="379.3" width="1" height="30.5"/><rect x="2408" y="388.6" width="3" height="19.2"/><rect x="2420" y="389.3" width="1" height="28.7"/><rect x="2419" y="401.6" width="3" height="6.1"/><rect x="2423" y="365.2" width="1" height="47.3"/><rect x="2422" y="371.7" width="3" height="29.9"/><rect x="2427" y="354.9" width="1" height="19.3"/><rect x="2426" y="363.4" width="3" height="8.4"/><rect x="2435" y="359.7" width="1" height="43.6"/><rect x="2434" y="362.2" width="3" height="25.0"/><rect x="2446" y="376.3" width="1" height="26.0"/><rect x="2445" y="379.9" width="3" height="8.2"/></g>
<g fill="#f0506e"><rect x="627" y="495.2" width="1" height="3.4"/><rect x="626" y="496.6" width="3" height="1.5"/><rect x="631" y="495.7" width="1" height="4.6"/><rect x="630" y="497.0" width="3" height="1.7"/><rect x="642" y="484.0" width="1" height="10.7"/><rect x="641" y="486.4" width="3" height="5.9"/><rect x="653" y="479.2" width="1" height="25.2"/><rect x="652" y="480.8" width="3" height="20.4"/><rect x="661" y="502.0" width="1" height="35.0"/><rect x="660" y="504.9" width="3" height="8.3"/><rect x="664" y="515.3" width="1" height="18.3"/><rect x="663" y="517.3" width="3" height="14.7"/><rect x="668" y="528.4" width="1" height="17.6"/><rect x="667" y="532.0" width="3" height="3.9"/><rect x="672" y="537.3" width="1" height="37.7"/><rect x="671" y="539.3" width="3" height="15.4"/><rect x="675" y="551.3" width="1" height="16.7"/><rect x="674" y="554.7" width="3" height="5.3"/><rect x="679" y="558.8" width="1" height="14.2"/><rect x="678" y="559.9" width="3" height="8.2"/><rect x="683" y="563.0" width="1" height="12.0"/><rect x="682" y="568.1" width="3" height="1.8"/><rect x="687" y="567.2" width="1" height="6.1"/><rect x="686" y="569.9" width="3" height="2.2"/><rect x="690" y="566.0" width="1" height="30.0"/><rect x="689" y="572.1" width="3" height="7.1"/><rect x="694" y="572.6" width="1" height="11.4"/><rect x="693" y="579.2" width="3" height="2.4"/><rect x="698" y="574.5" width="1" height="16.5"/><rect x="697" y="581.6" width="3" height="5.4"/><rect x="709" y="567.6" width="1" height="10.7"/><rect x="708" y="575.0" width="3" height="1.5"/><rect x="716" y="547.9" width="1" height="23.8"/><rect x="715" y="550.3" width="3" height="17.5"/><rect x="739" y="540.7" width="1" height="22.6"/><rect x="738" y="542.7" width="3" height="15.3"/><rect x="742" y="553.5" width="1" height="9.7"/><rect x="741" y="557.9" width="3" height="2.2"/><rect x="746" y="558.7" width="1" height="31.3"/><rect x="745" y="560.7" width="3" height="27.5"/><rect x="754" y="566.4" width="1" height="13.4"/><rect x="753" y="571.1" width="3" height="5.5"/><rect x="761" y="551.6" width="1" height="23.9"/><rect x="760" y="560.2" width="3" height="11.8"/><rect x="772" y="548.9" width="1" height="31.1"/><rect x="771" y="551.6" width="3" height="20.4"/><rect x="783" y="557.2" width="1" height="11.6"/><rect x="782" y="559.1" width="3" height="7.3"/><rect x="787" y="564.1" width="1" height="6.9"/><rect x="786" y="566.4" width="3" height="1.8"/><rect x="791" y="568.9" width="1" height="15.4"/><rect x="790" y="570.9" width="3" height="10.9"/><rect x="794" y="578.9" width="1" height="21.1"/><rect x="793" y="581.8" width="3" height="3.8"/><rect x="802" y="573.0" width="1" height="14.7"/><rect x="801" y="578.3" width="3" height="8.2"/><rect x="817" y="541.8" width="1" height="28.2"/><rect x="816" y="548.4" width="3" height="3.1"/><rect x="824" y="519.2" width="1" height="37.4"/><rect x="823" y="522.1" width="3" height="28.1"/><rect x="839" y="515.0" width="1" height="27.7"/><rect x="838" y="518.9" width="3" height="15.5"/><rect x="854" y="514.0" width="1" height="34.4"/><rect x="853" y="523.6" width="3" height="19.9"/><rect x="858" y="537.5" width="1" height="15.0"/><rect x="857" y="543.6" width="3" height="6.4"/><rect x="869" y="506.0" width="1" height="43.1"/><rect x="868" y="528.9" width="3" height="17.9"/><rect x="891" y="487.4" width="1" height="14.0"/><rect x="890" y="490.1" width="3" height="7.2"/><rect x="902" y="466.4" width="1" height="20.6"/><rect x="901" y="471.2" width="3" height="9.7"/><rect x="910" y="452.9" width="1" height="21.9"/><rect x="909" y="464.1" width="3" height="7.9"/><rect x="932" y="439.0" width="1" height="28.3"/><rect x="931" y="449.3" width="3" height="13.0"/><rect x="943" y="448.5" width="1" height="7.3"/><rect x="942" y="450.3" width="3" height="2.0"/><rect x="947" y="450.4" width="1" height="21.6"/><rect x="946" y="452.3" width="3" height="13.0"/><rect x="954" y="458.5" width="1" height="24.8"/><rect x="953" y="464.5" width="3" height="13.9"/><rect x="962" y="456.7" width="1" height="17.8"/><rect x="961" y="464.9" width="3" height="5.6"/><rect x="966" y="463.8" width="1" height="18.3"/><rect x="965" y="470.6" width="3" height="8.4"/><rect x="977" y="464.2" width="1" height="18.1"/><rect x="976" y="467.7" width="3" height="9.1"/><rect x="995" y="431.6" width="1" height="20.4"/><rect x="994" y="435.1" width="3" height="13.9"/><rect x="1003" y="441.0" width="1" height="7.5"/><rect x="1002" y="445.1" width="3" height="1.7"/><rect x="1029" y="383.6" width="1" height="28.8"/><rect x="1028" y="390.4" width="3" height="14.3"/><rect x="1032" y="401.0" width="1" height="12.4"/><rect x="1031" y="404.7" width="3" height="7.3"/><rect x="1044" y="393.3" width="1" height="26.7"/><rect x="1043" y="396.0" width="3" height="14.8"/><rect x="1051" y="383.9" width="1" height="15.3"/><rect x="1050" y="386.4" width="3" height="10.8"/><rect x="1059" y="385.7" width="1" height="16.9"/><rect x="1058" y="392.9" width="3" height="2.6"/><rect x="1066" y="365.0" width="1" height="25.5"/><rect x="1065" y="371.3" width="3" height="17.0"/><rect x="1085" y="363.7" width="1" height="14.4"/><rect x="1084" y="365.9" width="3" height="6.7"/><rect x="1096" y="352.7" width="1" height="20.0"/><rect x="1095" y="355.7" width="3" height="10.9"/><rect x="1099" y="358.5" width="1" height="28.0"/><rect x="1098" y="366.6" width="3" height="13.3"/><rect x="1107" y="362.8" width="1" height="13.3"/><rect x="1106" y="371.4" width="3" height="3.4"/><rect x="1111" y="369.1" width="1" height="30.1"/><rect x="1110" y="374.8" width="3" height="19.4"/><rect x="1118" y="383.0" width="1" height="23.0"/><rect x="1117" y="393.4" width="3" height="1.5"/><rect x="1122" y="395.8" width="1" height="10.0"/><rect x="1121" y="397.0" width="3" height="4.3"/><rect x="1125" y="406.4" width="1" height="16.2"/><rect x="1124" y="408.4" width="3" height="7.9"/><rect x="1129" y="413.2" width="1" height="32.8"/><rect x="1128" y="416.3" width="3" height="20.3"/><rect x="1140" y="406.0" width="1" height="31.2"/><rect x="1139" y="415.6" width="3" height="19.5"/><rect x="1148" y="410.5" width="1" height="8.9"/><rect x="1147" y="416.1" width="3" height="2.3"/><rect x="1152" y="414.3" width="1" height="7.3"/><rect x="1151" y="418.4" width="3" height="2.2"/><rect x="1155" y="416.2" width="1" height="5.6"/><rect x="1154" y="420.6" width="3" height="1.5"/><rect x="1163" y="416.2" width="1" height="10.3"/><rect x="1162" y="418.2" width="3" height="3.8"/><rect x="1166" y="426.3" width="1" height="25.8"/><rect x="1165" y="428.3" width="3" height="21.0"/><rect x="1170" y="445.4" width="1" height="33.2"/><rect x="1169" y="449.3" width="3" height="15.1"/><rect x="1181" y="457.4" width="1" height="15.0"/><rect x="1180" y="459.5" width="3" height="3.6"/><rect x="1185" y="464.7" width="1" height="23.9"/><rect x="1184" y="466.4" width="3" height="14.2"/><rect x="1192" y="473.9" width="1" height="26.7"/><rect x="1191" y="477.3" width="3" height="16.0"/><rect x="1200" y="491.5" width="1" height="11.0"/><rect x="1199" y="492.7" width="3" height="7.3"/><rect x="1207" y="474.7" width="1" height="45.2"/><rect x="1206" y="485.6" width="3" height="29.4"/><rect x="1218" y="479.1" width="1" height="31.3"/><rect x="1217" y="485.2" width="3" height="21.6"/><rect x="1226" y="488.0" width="1" height="17.5"/><rect x="1225" y="490.9" width="3" height="1.8"/><rect x="1230" y="490.5" width="1" height="28.3"/><rect x="1229" y="492.7" width="3" height="6.1"/><rect x="1233" y="492.1" width="1" height="23.6"/><rect x="1232" y="498.8" width="3" height="10.9"/><rect x="1237" y="507.6" width="1" height="28.3"/><rect x="1236" y="509.7" width="3" height="15.4"/><rect x="1241" y="520.1" width="1" height="17.3"/><rect x="1240" y="525.0" width="3" height="9.3"/><rect x="1248" y="524.3" width="1" height="29.3"/><rect x="1247" y="528.5" width="3" height="23.9"/><rect x="1256" y="544.1" width="1" height="51.9"/><rect x="1255" y="548.1" width="3" height="22.4"/><rect x="1263" y="548.8" width="1" height="45.6"/><rect x="1262" y="558.7" width="3" height="20.8"/><rect x="1267" y="567.1" width="1" height="15.8"/><rect x="1266" y="579.4" width="3" height="1.5"/><rect x="1282" y="533.3" width="1" height="19.2"/><rect x="1281" y="538.8" width="3" height="11.3"/><rect x="1285" y="533.1" width="1" height="25.9"/><rect x="1284" y="550.1" width="3" height="7.0"/><rect x="1304" y="530.0" width="1" height="29.0"/><rect x="1303" y="532.0" width="3" height="26.0"/><rect x="1308" y="545.0" width="1" height="33.8"/><rect x="1307" y="558.0" width="3" height="10.4"/><rect x="1311" y="562.8" width="1" height="15.9"/><rect x="1310" y="568.4" width="3" height="6.2"/><rect x="1319" y="562.5" width="1" height="21.7"/><rect x="1318" y="567.5" width="3" height="10.9"/><rect x="1326" y="569.9" width="1" height="32.3"/><rect x="1325" y="573.6" width="3" height="19.0"/><rect x="1334" y="576.6" width="1" height="17.6"/><rect x="1333" y="582.1" width="3" height="3.3"/><rect x="1337" y="582.2" width="1" height="24.8"/><rect x="1336" y="585.4" width="3" height="14.6"/><rect x="1360" y="576.0" width="1" height="19.3"/><rect x="1359" y="582.0" width="3" height="2.6"/><rect x="1367" y="580.9" width="1" height="9.4"/><rect x="1366" y="583.5" width="3" height="4.6"/><rect x="1375" y="582.2" width="1" height="18.9"/><rect x="1374" y="584.6" width="3" height="8.5"/><rect x="1378" y="590.0" width="1" height="15.9"/><rect x="1377" y="593.1" width="3" height="11.2"/><rect x="1386" y="592.8" width="1" height="7.9"/><rect x="1385" y="594.0" width="3" height="2.8"/><rect x="1390" y="596.8" width="1" height="25.3"/><rect x="1389" y="598.8" width="3" height="17.0"/><rect x="1393" y="604.0" width="1" height="41.0"/><rect x="1392" y="615.9" width="3" height="5.4"/><rect x="1397" y="630.8" width="1" height="43.2"/><rect x="1396" y="632.8" width="3" height="14.7"/><rect x="1401" y="646.4" width="1" height="14.3"/><rect x="1400" y="648.4" width="3" height="10.7"/><rect x="1404" y="659.6" width="1" height="24.9"/><rect x="1403" y="661.6" width="3" height="15.0"/><rect x="1408" y="675.1" width="1" height="6.8"/><rect x="1407" y="676.6" width="3" height="1.5"/><rect x="1412" y="668.1" width="1" height="29.9"/><rect x="1411" y="677.4" width="3" height="6.5"/><rect x="1416" y="682.0" width="1" height="18.6"/><rect x="1415" y="683.8" width="3" height="14.9"/><rect x="1423" y="675.8" width="1" height="17.3"/><rect x="1422" y="676.9" width="3" height="15.2"/><rect x="1430" y="686.0" width="1" height="20.4"/><rect x="1429" y="691.0" width="3" height="13.7"/><rect x="1438" y="683.7" width="1" height="26.5"/><rect x="1437" y="687.0" width="3" height="19.2"/><rect x="1442" y="704.7" width="1" height="12.4"/><rect x="1441" y="706.3" width="3" height="4.1"/><rect x="1445" y="695.0" width="1" height="21.1"/><rect x="1444" y="710.4" width="3" height="2.4"/><rect x="1453" y="709.4" width="1" height="21.6"/><rect x="1452" y="711.4" width="3" height="8.9"/><rect x="1456" y="719.0" width="1" height="25.0"/><rect x="1455" y="720.5" width="3" height="13.0"/><rect x="1464" y="730.3" width="1" height="37.6"/><rect x="1463" y="732.5" width="3" height="22.8"/><rect x="1471" y="753.4" width="1" height="68.9"/><rect x="1470" y="755.4" width="3" height="55.5"/><rect x="1479" y="796.7" width="1" height="41.3"/><rect x="1478" y="799.7" width="3" height="26.9"/><rect x="1486" y="794.2" width="1" height="19.8"/><rect x="1485" y="795.5" width="3" height="11.3"/><rect x="1490" y="798.0" width="1" height="39.6"/><rect x="1489" y="806.8" width="3" height="28.0"/><rect x="1497" y="820.8" width="1" height="44.2"/><rect x="1496" y="824.4" width="3" height="15.5"/><rect x="1501" y="843.6" width="1" height="71.4"/><rect x="1500" y="845.6" width="3" height="31.8"/><rect x="1512" y="860.8" width="1" height="24.9"/><rect x="1511" y="865.8" width="3" height="18.9"/><rect x="1520" y="845.8" width="1" height="36.4"/><rect x="1519" y="852.1" width="3" height="22.0"/><rect x="1531" y="780.0" width="1" height="73.0"/><rect x="1530" y="806.6" width="3" height="32.1"/><rect x="1546" y="776.4" width="1" height="8.9"/><rect x="1545" y="779.4" width="3" height="1.5"/><rect x="1553" y="745.8" width="1" height="29.4"/><rect x="1552" y="758.1" width="3" height="9.7"/><rect x="1561" y="723.2" width="1" height="22.0"/><rect x="1560" y="725.9" width="3" height="17.4"/><rect x="1575" y="689.5" width="1" height="18.3"/><rect x="1574" y="692.9" width="3" height="13.2"/><rect x="1583" y="682.9" width="1" height="32.1"/><rect x="1582" y="684.9" width="3" height="21.8"/><rect x="1598" y="681.5" width="1" height="40.4"/><rect x="1597" y="693.2" width="3" height="19.4"/><rect x="1605" y="670.0" width="1" height="48.6"/><rect x="1604" y="680.1" width="3" height="35.3"/><rect x="1613" y="676.3" width="1" height="36.3"/><rect x="1612" y="682.7" width="3" height="19.9"/><rect x="1635" y="641.4" width="1" height="17.4"/><rect x="1634" y="651.8" width="3" height="4.6"/><rect x="1639" y="655.2" width="1" height="19.3"/><rect x="1638" y="656.4" width="3" height="14.8"/><rect x="1646" y="644.5" width="1" height="25.5"/><rect x="1645" y="646.2" width="3" height="16.2"/><rect x="1650" y="655.9" width="1" height="31.2"/><rect x="1649" y="662.4" width="3" height="12.9"/><rect x="1654" y="672.3" width="1" height="24.3"/><rect x="1653" y="675.4" width="3" height="16.7"/><rect x="1657" y="687.9" width="1" height="38.1"/><rect x="1656" y="692.0" width="3" height="8.2"/><rect x="1668" y="659.0" width="1" height="53.2"/><rect x="1667" y="678.6" width="3" height="28.6"/><rect x="1680" y="665.1" width="1" height="46.1"/><rect x="1679" y="673.8" width="3" height="30.7"/><rect x="1691" y="651.2" width="1" height="15.6"/><rect x="1690" y="662.3" width="3" height="1.8"/><rect x="1695" y="652.1" width="1" height="45.8"/><rect x="1694" y="664.1" width="3" height="23.5"/><rect x="1702" y="653.5" width="1" height="32.2"/><rect x="1701" y="663.1" width="3" height="14.8"/><rect x="1713" y="629.2" width="1" height="24.0"/><rect x="1712" y="633.6" width="3" height="13.9"/><rect x="1721" y="613.8" width="1" height="11.0"/><rect x="1720" y="616.8" width="3" height="2.3"/><rect x="1724" y="615.7" width="1" height="20.8"/><rect x="1723" y="619.1" width="3" height="15.7"/><rect x="1732" y="602.7" width="1" height="15.3"/><rect x="1731" y="606.3" width="3" height="9.1"/><rect x="1743" y="597.3" width="1" height="17.4"/><rect x="1742" y="601.4" width="3" height="8.5"/><rect x="1747" y="604.1" width="1" height="17.4"/><rect x="1746" y="609.9" width="3" height="10.5"/><rect x="1758" y="598.0" width="1" height="42.0"/><rect x="1757" y="602.5" width="3" height="26.7"/><rect x="1765" y="607.9" width="1" height="21.1"/><rect x="1764" y="616.9" width="3" height="1.5"/><rect x="1773" y="600.1" width="1" height="18.4"/><rect x="1772" y="603.8" width="3" height="10.2"/><rect x="1787" y="599.2" width="1" height="20.9"/><rect x="1786" y="601.8" width="3" height="17.0"/><rect x="1799" y="603.2" width="1" height="10.0"/><rect x="1798" y="605.1" width="3" height="1.9"/><rect x="1810" y="583.8" width="1" height="9.4"/><rect x="1809" y="587.5" width="3" height="2.1"/><rect x="1814" y="587.5" width="1" height="9.9"/><rect x="1813" y="589.6" width="3" height="5.9"/><rect x="1821" y="584.0" width="1" height="13.9"/><rect x="1820" y="589.3" width="3" height="3.6"/><rect x="1832" y="572.6" width="1" height="12.3"/><rect x="1831" y="578.9" width="3" height="3.2"/><rect x="1840" y="558.9" width="1" height="17.2"/><rect x="1839" y="560.9" width="3" height="2.6"/><rect x="1843" y="558.9" width="1" height="35.1"/><rect x="1842" y="563.5" width="3" height="4.5"/><rect x="1851" y="556.6" width="1" height="14.6"/><rect x="1850" y="558.6" width="3" height="8.5"/><rect x="1854" y="569.7" width="1" height="11.2"/><rect x="1853" y="571.7" width="3" height="6.1"/><rect x="1858" y="582.8" width="1" height="44.2"/><rect x="1857" y="584.8" width="3" height="27.6"/><rect x="1866" y="587.5" width="1" height="44.8"/><rect x="1865" y="593.7" width="3" height="30.6"/><rect x="1869" y="622.0" width="1" height="12.5"/><rect x="1868" y="624.3" width="3" height="3.6"/><rect x="1877" y="599.4" width="1" height="34.5"/><rect x="1876" y="603.8" width="3" height="27.1"/><rect x="1888" y="614.4" width="1" height="34.0"/><rect x="1887" y="617.3" width="3" height="21.2"/><rect x="1895" y="615.2" width="1" height="15.8"/><rect x="1894" y="616.8" width="3" height="5.3"/><rect x="1899" y="617.1" width="1" height="13.9"/><rect x="1898" y="622.2" width="3" height="6.9"/><rect x="1907" y="620.4" width="1" height="45.6"/><rect x="1906" y="627.0" width="3" height="27.4"/><rect x="1914" y="624.6" width="1" height="19.4"/><rect x="1913" y="631.1" width="3" height="6.3"/><rect x="1918" y="634.4" width="1" height="10.5"/><rect x="1917" y="637.4" width="3" height="4.7"/><rect x="1921" y="637.4" width="1" height="18.5"/><rect x="1920" y="642.1" width="3" height="9.0"/><rect x="1940" y="616.0" width="1" height="17.0"/><rect x="1939" y="621.6" width="3" height="9.9"/><rect x="1944" y="630.4" width="1" height="7.6"/><rect x="1943" y="631.5" width="3" height="5.2"/><rect x="1951" y="616.0" width="1" height="24.3"/><rect x="1950" y="622.9" width="3" height="15.2"/><rect x="1962" y="618.8" width="1" height="8.8"/><rect x="1961" y="622.5" width="3" height="1.5"/><rect x="1966" y="619.2" width="1" height="17.1"/><rect x="1965" y="623.2" width="3" height="10.2"/><rect x="1973" y="628.6" width="1" height="7.3"/><rect x="1972" y="629.7" width="3" height="3.1"/><rect x="1981" y="612.0" width="1" height="20.9"/><rect x="1980" y="615.7" width="3" height="14.1"/><rect x="1988" y="607.9" width="1" height="16.7"/><rect x="1987" y="612.1" width="3" height="7.3"/><rect x="1992" y="618.0" width="1" height="22.0"/><rect x="1991" y="619.4" width="3" height="14.5"/><rect x="1996" y="626.7" width="1" height="10.1"/><rect x="1995" y="633.9" width="3" height="1.5"/><rect x="2003" y="614.0" width="1" height="22.3"/><rect x="2002" y="623.2" width="3" height="11.6"/><rect x="2007" y="631.7" width="1" height="15.3"/><rect x="2006" y="634.8" width="3" height="6.0"/><rect x="2014" y="634.7" width="1" height="19.5"/><rect x="2013" y="637.7" width="3" height="11.6"/><rect x="2022" y="641.5" width="1" height="21.7"/><rect x="2021" y="642.6" width="3" height="19.0"/><rect x="2026" y="660.4" width="1" height="14.3"/><rect x="2025" y="661.6" width="3" height="6.2"/><rect x="2029" y="663.1" width="1" height="8.5"/><rect x="2028" y="667.7" width="3" height="1.7"/><rect x="2037" y="655.6" width="1" height="21.0"/><rect x="2036" y="656.6" width="3" height="10.5"/><rect x="2040" y="665.2" width="1" height="25.6"/><rect x="2039" y="667.2" width="3" height="18.4"/><rect x="2048" y="680.5" width="1" height="14.5"/><rect x="2047" y="682.2" width="3" height="4.3"/><rect x="2052" y="683.4" width="1" height="25.3"/><rect x="2051" y="686.5" width="3" height="16.2"/><rect x="2059" y="685.2" width="1" height="25.2"/><rect x="2058" y="687.2" width="3" height="19.7"/><rect x="2066" y="697.0" width="1" height="11.9"/><rect x="2065" y="702.8" width="3" height="2.0"/><rect x="2070" y="698.5" width="1" height="27.1"/><rect x="2069" y="704.8" width="3" height="10.9"/><rect x="2078" y="707.8" width="1" height="17.0"/><rect x="2077" y="713.6" width="3" height="8.3"/><rect x="2085" y="712.3" width="1" height="15.7"/><rect x="2084" y="719.1" width="3" height="3.5"/><rect x="2092" y="715.8" width="1" height="20.6"/><rect x="2091" y="717.9" width="3" height="16.0"/><rect x="2100" y="718.2" width="1" height="23.5"/><rect x="2099" y="720.7" width="3" height="14.1"/><rect x="2107" y="720.6" width="1" height="27.5"/><rect x="2106" y="725.4" width="3" height="14.2"/><rect x="2115" y="718.4" width="1" height="24.9"/><rect x="2114" y="721.8" width="3" height="18.5"/><rect x="2122" y="712.2" width="1" height="30.1"/><rect x="2121" y="719.3" width="3" height="15.1"/><rect x="2133" y="708.1" width="1" height="4.6"/><rect x="2132" y="709.9" width="3" height="1.5"/><rect x="2145" y="700.8" width="1" height="11.7"/><rect x="2144" y="705.8" width="3" height="1.5"/><rect x="2152" y="686.0" width="1" height="30.2"/><rect x="2151" y="691.7" width="3" height="16.5"/><rect x="2167" y="672.5" width="1" height="30.0"/><rect x="2166" y="679.3" width="3" height="22.1"/><rect x="2189" y="658.0" width="1" height="22.1"/><rect x="2188" y="661.7" width="3" height="9.5"/><rect x="2200" y="635.0" width="1" height="27.7"/><rect x="2199" y="650.5" width="3" height="10.6"/><rect x="2208" y="641.3" width="1" height="6.8"/><rect x="2207" y="644.4" width="3" height="1.5"/><rect x="2223" y="615.6" width="1" height="9.5"/><rect x="2222" y="616.7" width="3" height="4.5"/><rect x="2238" y="597.1" width="1" height="13.5"/><rect x="2237" y="600.1" width="3" height="6.5"/><rect x="2245" y="576.4" width="1" height="17.7"/><rect x="2244" y="581.1" width="3" height="5.9"/><rect x="2256" y="521.0" width="1" height="40.8"/><rect x="2255" y="552.9" width="3" height="6.0"/><rect x="2260" y="551.1" width="1" height="24.4"/><rect x="2259" y="558.9" width="3" height="12.7"/><rect x="2271" y="552.0" width="1" height="31.1"/><rect x="2270" y="556.2" width="3" height="17.4"/><rect x="2282" y="560.5" width="1" height="22.5"/><rect x="2281" y="567.8" width="3" height="9.7"/><rect x="2290" y="567.3" width="1" height="15.5"/><rect x="2289" y="574.9" width="3" height="1.5"/><rect x="2293" y="570.1" width="1" height="18.9"/><rect x="2292" y="575.8" width="3" height="1.5"/><rect x="2304" y="566.9" width="1" height="12.5"/><rect x="2303" y="569.7" width="3" height="1.5"/><rect x="2312" y="537.0" width="1" height="28.9"/><rect x="2311" y="552.7" width="3" height="7.5"/><rect x="2316" y="555.4" width="1" height="18.8"/><rect x="2315" y="560.1" width="3" height="5.7"/><rect x="2323" y="547.7" width="1" height="16.1"/><rect x="2322" y="557.4" width="3" height="3.3"/><rect x="2330" y="517.1" width="1" height="20.6"/><rect x="2329" y="526.8" width="3" height="3.6"/><rect x="2360" y="388.9" width="1" height="32.1"/><rect x="2359" y="393.2" width="3" height="22.3"/><rect x="2368" y="393.4" width="1" height="22.1"/><rect x="2367" y="396.5" width="3" height="7.1"/><rect x="2375" y="394.7" width="1" height="29.6"/><rect x="2374" y="399.5" width="3" height="14.3"/><rect x="2383" y="394.9" width="1" height="39.0"/><rect x="2382" y="403.1" width="3" height="21.3"/><rect x="2394" y="374.0" width="1" height="65.0"/><rect x="2393" y="396.5" width="3" height="24.6"/><rect x="2401" y="391.2" width="1" height="8.0"/><rect x="2400" y="392.4" width="3" height="5.2"/><rect x="2405" y="395.4" width="1" height="19.5"/><rect x="2404" y="397.6" width="3" height="10.2"/><rect x="2412" y="383.8" width="1" height="22.6"/><rect x="2411" y="388.6" width="3" height="10.8"/><rect x="2416" y="396.8" width="1" height="14.0"/><rect x="2415" y="399.3" width="3" height="8.4"/><rect x="2431" y="362.4" width="1" height="29.8"/><rect x="2430" y="363.4" width="3" height="23.9"/><rect x="2438" y="345.0" width="1" height="40.2"/><rect x="2437" y="362.2" width="3" height="6.0"/><rect x="2442" y="357.9" width="1" height="47.7"/><rect x="2441" y="368.2" width="3" height="19.9"/><rect x="2450" y="374.8" width="1" height="31.2"/><rect x="2449" y="379.9" width="3" height="12.8"/></g>
<path d="M628.0,483.24 L630.0,483.82 L632.0,484.40 L634.0,484.89 L636.0,485.84 L638.0,486.65 L640.0,487.34 L642.0,487.90 L644.0,488.32 L646.0,488.62 L648.0,488.95 L650.0,489.43 L652.0,490.07 L654.0,490.85 L656.0,491.80 L658.0,492.90 L660.0,494.20 L662.0,495.62 L664.0,497.07 L666.0,498.57 L668.0,500.11 L670.0,501.70 L672.0,503.31 L674.0,504.93 L676.0,506.56 L678.0,508.25 L680.0,509.99 L682.0,511.78 L684.0,513.62 L686.0,515.52 L688.0,517.47 L690.0,519.46 L692.0,521.45 L694.0,523.44 L696.0,525.37 L698.0,527.18 L700.0,528.86 L702.0,530.42 L704.0,531.85 L706.0,533.16 L708.0,534.34 L710.0,535.45 L712.0,536.57 L714.0,537.70 L716.0,538.84 L718.0,540.00 L720.0,541.17 L722.0,542.35 L724.0,543.55 L726.0,544.76 L728.0,546.00 L730.0,547.27 L732.0,548.57 L734.0,549.89 L736.0,551.24 L738.0,552.69 L740.0,554.22 L742.0,555.82 L744.0,557.49 L746.0,559.23 L748.0,561.03 L750.0,562.90 L752.0,564.61 L754.0,566.12 L756.0,567.43 L758.0,568.53 L760.0,569.35 L762.0,569.89 L764.0,570.15 L766.0,570.31 L768.0,570.38 L770.0,570.37 L772.0,570.29 L774.0,570.22 L776.0,570.15 L778.0,570.08 L780.0,570.00 L782.0,569.93 L784.0,569.88 L786.0,569.85 L788.0,569.85 L790.0,569.87 L792.0,569.92 L794.0,569.99 L796.0,570.08 L798.0,570.18 L800.0,570.28 L802.0,570.37 L804.0,570.45 L806.0,570.51 L808.0,570.55 L810.0,570.58 L812.0,570.55 L814.0,570.39 L816.0,570.13 L818.0,569.76 L820.0,569.32 L822.0,568.79 L824.0,568.18 L826.0,567.54 L828.0,566.93 L830.0,566.34 L832.0,565.77 L834.0,565.12 L836.0,564.37 L838.0,563.52 L840.0,562.56 L842.0,561.50 L844.0,560.34 L846.0,559.07 L848.0,557.79 L850.0,556.63 L852.0,555.61 L854.0,554.73 L856.0,554.00 L858.0,553.40 L860.0,552.96 L862.0,552.65 L864.0,552.38 L866.0,552.10 L868.0,551.83 L870.0,551.45 L872.0,550.96 L874.0,550.37 L876.0,549.61 L878.0,548.62 L880.0,547.40 L882.0,545.95 L884.0,544.36 L886.0,542.65 L888.0,540.82 L890.0,538.91 L892.0,537.00 L894.0,535.09 L896.0,533.15 L898.0,531.16 L900.0,529.11 L902.0,527.02 L904.0,524.87 L906.0,522.67 L908.0,520.42 L910.0,518.15 L912.0,515.88 L914.0,513.68 L916.0,511.59 L918.0,509.60 L920.0,507.71 L922.0,505.92 L924.0,504.24 L926.0,502.65 L928.0,501.09 L930.0,499.53 L932.0,497.97 L934.0,496.44 L936.0,494.98 L938.0,493.61 L940.0,492.32 L942.0,491.10 L944.0,489.97 L946.0,488.92 L948.0,487.91 L950.0,486.83 L952.0,485.69 L954.0,484.49 L956.0,483.22 L958.0,481.89 L960.0,480.50 L962.0,479.07 L964.0,477.65 L966.0,476.30 L968.0,475.01 L970.0,473.77 L972.0,472.60 L974.0,471.50 L976.0,470.45 L978.0,469.45 L980.0,468.45 L982.0,467.45 L984.0,466.47 L986.0,465.51 L988.0,464.57 L990.0,463.66 L992.0,462.76 L994.0,461.89 L996.0,461.04 L998.0,460.18 L1000.0,459.34 L1002.0,458.51 L1004.0,457.69 L1006.0,456.87 L1008.0,456.07 L1010.0,455.28 L1012.0,454.50 L1014.0,453.72 L1016.0,452.94 L1018.0,452.16 L1020.0,451.35 L1022.0,450.45 L1024.0,449.46 L1026.0,448.38 L1028.0,447.23 L1030.0,445.98 L1032.0,444.65 L1034.0,443.28 L1036.0,441.90 L1038.0,440.51 L1040.0,439.05 L1042.0,437.52 L1044.0,435.92 L1046.0,434.24 L1048.0,432.49 L1050.0,430.67 L1052.0,428.79 L1054.0,426.91 L1056.0,425.03 L1058.0,423.13 L1060.0,421.22 L1062.0,419.29 L1064.0,417.34 L1066.0,415.38 L1068.0,413.40 L1070.0,411.40 L1072.0,409.50 L1074.0,407.69 L1076.0,405.99 L1078.0,404.39 L1080.0,402.89 L1082.0,401.49 L1084.0,400.19 L1086.0,398.90 L1088.0,397.61 L1090.0,396.31 L1092.0,395.02 L1094.0,393.74 L1096.0,392.50 L1098.0,391.31 L1100.0,390.15 L1102.0,389.03 L1104.0,387.96 L1106.0,386.93 L1108.0,385.98 L1110.0,385.19 L1112.0,384.56 L1114.0,384.08 L1116.0,383.76 L1118.0,383.60 L1120.0,383.67 L1122.0,383.95 L1124.0,384.35 L1126.0,384.87 L1128.0,385.51 L1130.0,386.28 L1132.0,387.17 L1134.0,388.05 L1136.0,388.86 L1138.0,389.59 L1140.0,390.25 L1142.0,390.82 L1144.0,391.32 L1146.0,391.80 L1148.0,392.30 L1150.0,392.85 L1152.0,393.47 L1154.0,394.14 L1156.0,394.88 L1158.0,395.90 L1160.0,397.14 L1162.0,398.60 L1164.0,400.28 L1166.0,402.19 L1168.0,404.31 L1170.0,406.64 L1172.0,408.97 L1174.0,411.29 L1176.0,413.60 L1178.0,415.91 L1180.0,418.22 L1182.0,420.52 L1184.0,422.81 L1186.0,425.11 L1188.0,427.49 L1190.0,429.94 L1192.0,432.48 L1194.0,435.09 L1196.0,437.78 L1198.0,440.56 L1200.0,443.41 L1202.0,446.26 L1204.0,448.97 L1206.0,451.51 L1208.0,453.89 L1210.0,456.11 L1212.0,458.17 L1214.0,460.06 L1216.0,461.79 L1218.0,463.51 L1220.0,465.22 L1222.0,466.94 L1224.0,468.66 L1226.0,470.38 L1228.0,472.09 L1230.0,473.81 L1232.0,475.53 L1234.0,477.25 L1236.0,479.07 L1238.0,481.05 L1240.0,483.19 L1242.0,485.49 L1244.0,487.96 L1246.0,490.58 L1248.0,493.36 L1250.0,496.20 L1252.0,498.99 L1254.0,501.66 L1256.0,504.23 L1258.0,506.70 L1260.0,509.06 L1262.0,511.31 L1264.0,513.46 L1266.0,515.56 L1268.0,517.66 L1270.0,519.64 L1272.0,521.45 L1274.0,523.09 L1276.0,524.55 L1278.0,525.83 L1280.0,526.95 L1282.0,527.89 L1284.0,528.78 L1286.0,529.67 L1288.0,530.56 L1290.0,531.44 L1292.0,532.33 L1294.0,533.22 L1296.0,534.11 L1298.0,535.00 L1300.0,535.89 L1302.0,536.78 L1304.0,537.67 L1306.0,538.59 L1308.0,539.65 L1310.0,540.85 L1312.0,542.19 L1314.0,543.66 L1316.0,545.27 L1318.0,547.02 L1320.0,548.88 L1322.0,550.73 L1324.0,552.59 L1326.0,554.44 L1328.0,556.29 L1330.0,558.15 L1332.0,560.00 L1334.0,561.85 L1336.0,563.45 L1338.0,564.76 L1340.0,565.79 L1342.0,566.53 L1344.0,566.98 L1346.0,567.15 L1348.0,567.03 L1350.0,566.88 L1352.0,566.82 L1354.0,566.86 L1356.0,567.02 L1358.0,567.29 L1360.0,567.68 L1362.0,568.18 L1364.0,568.79 L1366.0,569.44 L1368.0,570.21 L1370.0,571.22 L1372.0,572.49 L1374.0,573.99 L1376.0,575.66 L1378.0,577.48 L1380.0,579.45 L1382.0,581.46 L1384.0,583.38 L1386.0,585.20 L1388.0,586.93 L1390.0,588.68 L1392.0,590.44 L1394.0,592.22 L1396.0,594.02 L1398.0,595.84 L1400.0,597.68 L1402.0,599.53 L1404.0,601.40 L1406.0,603.29 L1408.0,605.19 L1410.0,607.11 L1412.0,609.06 L1414.0,611.02 L1416.0,613.00 L1418.0,615.00 L1420.0,617.00 L1422.0,619.00 L1424.0,621.00 L1426.0,623.00 L1428.0,625.00 L1430.0,627.00 L1432.0,629.00 L1434.0,631.00 L1436.0,633.10 L1438.0,635.34 L1440.0,637.72 L1442.0,640.24 L1444.0,642.91 L1446.0,645.71 L1448.0,648.66 L1450.0,651.65 L1452.0,654.64 L1454.0,657.75 L1456.0,661.08 L1458.0,664.61 L1460.0,668.36 L1462.0,672.31 L1464.0,676.48 L1466.0,680.81 L1468.0,685.12 L1470.0,689.35 L1472.0,693.48 L1474.0,697.51 L1476.0,701.45 L1478.0,705.30 L1480.0,709.10 L1482.0,712.90 L1484.0,716.70 L1486.0,720.50 L1488.0,724.30 L1490.0,728.14 L1492.0,732.04 L1494.0,736.03 L1496.0,740.08 L1498.0,744.20 L1500.0,748.40 L1502.0,752.67 L1504.0,756.98 L1506.0,761.28 L1508.0,765.52 L1510.0,769.57 L1512.0,773.43 L1514.0,777.09 L1516.0,780.57 L1518.0,783.85 L1520.0,786.94 L1522.0,789.91 L1524.0,792.87 L1526.0,795.81 L1528.0,798.61 L1530.0,801.28 L1532.0,803.82 L1534.0,806.23 L1536.0,808.51 L1538.0,810.62 L1540.0,812.43 L1542.0,814.05 L1544.0,815.46 L1546.0,816.67 L1548.0,817.60 L1550.0,818.19 L1552.0,818.49 L1554.0,818.64 L1556.0,818.64 L1558.0,818.29 L1560.0,817.60 L1562.0,816.65 L1564.0,815.49 L1566.0,814.13 L1568.0,812.56 L1570.0,810.71 L1572.0,808.76 L1574.0,806.71 L1576.0,804.57 L1578.0,802.32 L1580.0,799.98 L1582.0,797.54 L1584.0,795.02 L1586.0,792.32 L1588.0,789.46 L1590.0,786.43 L1592.0,783.22 L1594.0,779.85 L1596.0,776.31 L1598.0,772.69 L1600.0,768.93 L1602.0,764.93 L1604.0,760.66 L1606.0,756.15 L1608.0,751.37 L1610.0,746.35 L1612.0,741.41 L1614.0,736.73 L1616.0,732.44 L1618.0,728.53 L1620.0,725.00 L1622.0,721.86 L1624.0,719.11 L1626.0,716.39 L1628.0,713.64 L1630.0,710.86 L1632.0,708.03 L1634.0,705.16 L1636.0,702.26 L1638.0,699.31 L1640.0,696.33 L1642.0,693.56 L1644.0,691.04 L1646.0,688.79 L1648.0,686.80 L1650.0,685.07 L1652.0,683.60 L1654.0,682.39 L1656.0,681.36 L1658.0,680.50 L1660.0,679.80 L1662.0,679.28 L1664.0,678.92 L1666.0,678.71 L1668.0,678.56 L1670.0,678.33 L1672.0,677.97 L1674.0,677.51 L1676.0,676.93 L1678.0,676.28 L1680.0,675.63 L1682.0,675.10 L1684.0,674.68 L1686.0,674.37 L1688.0,674.18 L1690.0,674.10 L1692.0,674.08 L1694.0,674.02 L1696.0,673.91 L1698.0,673.75 L1700.0,673.54 L1702.0,673.29 L1704.0,672.99 L1706.0,672.62 L1708.0,672.16 L1710.0,671.60 L1712.0,670.94 L1714.0,670.19 L1716.0,669.34 L1718.0,668.41 L1720.0,667.44 L1722.0,666.49 L1724.0,665.56 L1726.0,664.65 L1728.0,663.76 L1730.0,662.89 L1732.0,662.02 L1734.0,661.16 L1736.0,660.28 L1738.0,659.40 L1740.0,658.51 L1742.0,657.61 L1744.0,656.71 L1746.0,655.80 L1748.0,654.85 L1750.0,653.83 L1752.0,652.74 L1754.0,651.58 L1756.0,650.34 L1758.0,649.04 L1760.0,647.66 L1762.0,646.30 L1764.0,645.02 L1766.0,643.82 L1768.0,642.70 L1770.0,641.66 L1772.0,640.71 L1774.0,639.84 L1776.0,638.94 L1778.0,637.95 L1780.0,636.86 L1782.0,635.67 L1784.0,634.39 L1786.0,633.02 L1788.0,631.58 L1790.0,630.12 L1792.0,628.68 L1794.0,627.26 L1796.0,625.85 L1798.0,624.42 L1800.0,622.95 L1802.0,621.44 L1804.0,619.89 L1806.0,618.29 L1808.0,616.66 L1810.0,615.03 L1812.0,613.55 L1814.0,612.24 L1816.0,611.07 L1818.0,610.06 L1820.0,609.21 L1822.0,608.51 L1824.0,607.93 L1826.0,607.35 L1828.0,606.72 L1830.0,606.06 L1832.0,605.36 L1834.0,604.62 L1836.0,603.85 L1838.0,603.03 L1840.0,602.19 L1842.0,601.34 L1844.0,600.56 L1846.0,599.84 L1848.0,599.18 L1850.0,598.59 L1852.0,598.06 L1854.0,597.59 L1856.0,597.19 L1858.0,596.83 L1860.0,596.50 L1862.0,596.20 L1864.0,595.94 L1866.0,595.75 L1868.0,595.65 L1870.0,595.65 L1872.0,595.72 L1874.0,595.84 L1876.0,596.03 L1878.0,596.27 L1880.0,596.56 L1882.0,596.86 L1884.0,597.23 L1886.0,597.68 L1888.0,598.19 L1890.0,598.78 L1892.0,599.44 L1894.0,600.16 L1896.0,600.96 L1898.0,601.79 L1900.0,602.66 L1902.0,603.58 L1904.0,604.53 L1906.0,605.53 L1908.0,606.57 L1910.0,607.64 L1912.0,608.75 L1914.0,609.89 L1916.0,611.06 L1918.0,612.27 L1920.0,613.50 L1922.0,614.77 L1924.0,616.05 L1926.0,617.33 L1928.0,618.60 L1930.0,619.86 L1932.0,621.11 L1934.0,622.34 L1936.0,623.57 L1938.0,624.75 L1940.0,625.84 L1942.0,626.86 L1944.0,627.81 L1946.0,628.69 L1948.0,629.49 L1950.0,630.21 L1952.0,630.90 L1954.0,631.59 L1956.0,632.28 L1958.0,632.96 L1960.0,633.55 L1962.0,634.04 L1964.0,634.42 L1966.0,634.71 L1968.0,634.91 L1970.0,635.00 L1972.0,635.00 L1974.0,635.00 L1976.0,635.00 L1978.0,635.00 L1980.0,635.00 L1982.0,634.98 L1984.0,634.91 L1986.0,634.78 L1988.0,634.61 L1990.0,634.39 L1992.0,634.12 L1994.0,633.81 L1996.0,633.46 L1998.0,633.11 L2000.0,632.77 L2002.0,632.42 L2004.0,632.07 L2006.0,631.80 L2008.0,631.62 L2010.0,631.52 L2012.0,631.50 L2014.0,631.57 L2016.0,631.72 L2018.0,631.95 L2020.0,632.28 L2022.0,632.68 L2024.0,633.17 L2026.0,633.74 L2028.0,634.39 L2030.0,635.12 L2032.0,635.94 L2034.0,636.79 L2036.0,637.66 L2038.0,638.56 L2040.0,639.49 L2042.0,640.44 L2044.0,641.42 L2046.0,642.43 L2048.0,643.56 L2050.0,644.81 L2052.0,646.18 L2054.0,647.66 L2056.0,649.26 L2058.0,650.97 L2060.0,652.80 L2062.0,654.63 L2064.0,656.46 L2066.0,658.30 L2068.0,660.13 L2070.0,661.97 L2072.0,663.81 L2074.0,665.66 L2076.0,667.55 L2078.0,669.49 L2080.0,671.47 L2082.0,673.50 L2084.0,675.58 L2086.0,677.70 L2088.0,679.85 L2090.0,681.98 L2092.0,684.09 L2094.0,686.18 L2096.0,688.24 L2098.0,690.28 L2100.0,692.30 L2102.0,694.30 L2104.0,696.30 L2106.0,698.30 L2108.0,700.23 L2110.0,702.07 L2112.0,703.83 L2114.0,705.50 L2116.0,707.10 L2118.0,708.61 L2120.0,710.04 L2122.0,711.46 L2124.0,712.76 L2126.0,713.93 L2128.0,714.95 L2130.0,715.84 L2132.0,716.58 L2134.0,717.18 L2136.0,717.64 L2138.0,718.07 L2140.0,718.45 L2142.0,718.74 L2144.0,718.94 L2146.0,719.06 L2148.0,719.10 L2150.0,719.05 L2152.0,718.91 L2154.0,718.70 L2156.0,718.41 L2158.0,718.05 L2160.0,717.62 L2162.0,717.11 L2164.0,716.52 L2166.0,715.86 L2168.0,715.19 L2170.0,714.52 L2172.0,713.85 L2174.0,713.18 L2176.0,712.51 L2178.0,711.85 L2180.0,711.18 L2182.0,710.40 L2184.0,709.47 L2186.0,708.40 L2188.0,707.18 L2190.0,705.83 L2192.0,704.32 L2194.0,702.67 L2196.0,701.01 L2198.0,699.34 L2200.0,697.67 L2202.0,696.00 L2204.0,694.33 L2206.0,692.66 L2208.0,690.99 L2210.0,689.23 L2212.0,687.38 L2214.0,685.43 L2216.0,683.39 L2218.0,681.25 L2220.0,679.02 L2222.0,676.69 L2224.0,674.36 L2226.0,672.03 L2228.0,669.70 L2230.0,667.37 L2232.0,665.04 L2234.0,662.71 L2236.0,660.37 L2238.0,658.00 L2240.0,655.57 L2242.0,653.10 L2244.0,650.59 L2246.0,648.03 L2248.0,645.42 L2250.0,642.77 L2252.0,640.13 L2254.0,637.48 L2256.0,634.83 L2258.0,632.18 L2260.0,629.53 L2262.0,626.92 L2264.0,624.39 L2266.0,621.94 L2268.0,619.57 L2270.0,617.29 L2272.0,615.10 L2274.0,612.98 L2276.0,610.92 L2278.0,608.88 L2280.0,606.88 L2282.0,604.92 L2284.0,603.00 L2286.0,601.12 L2288.0,599.28 L2290.0,597.49 L2292.0,595.69 L2294.0,593.89 L2296.0,592.09 L2298.0,590.27 L2300.0,588.45 L2302.0,586.63 L2304.0,584.80 L2306.0,582.99 L2308.0,581.26 L2310.0,579.59 L2312.0,578.00 L2314.0,576.48 L2316.0,575.02 L2318.0,573.64 L2320.0,572.30 L2322.0,570.86 L2324.0,569.26 L2326.0,567.52 L2328.0,565.62 L2330.0,563.58 L2332.0,561.38 L2334.0,559.01 L2336.0,556.50 L2338.0,553.91 L2340.0,551.23 L2342.0,548.47 L2344.0,545.62 L2346.0,542.68 L2348.0,539.67 L2350.0,536.65 L2352.0,533.57 L2354.0,530.45 L2356.0,527.29 L2358.0,524.08 L2360.0,520.82 L2362.0,517.51 L2364.0,514.19 L2366.0,510.86 L2368.0,507.53 L2370.0,504.20 L2372.0,500.87 L2374.0,497.54 L2376.0,494.21 L2378.0,490.88 L2380.0,487.55 L2382.0,484.18 L2384.0,480.76 L2386.0,477.29 L2388.0,473.78 L2390.0,470.22 L2392.0,466.62 L2394.0,462.97 L2396.0,459.32 L2398.0,455.73 L2400.0,452.20 L2402.0,448.72 L2404.0,445.30 L2406.0,441.93 L2408.0,438.62 L2410.0,435.36 L2412.0,432.10 L2414.0,428.84 L2416.0,425.58 L2418.0,422.35 L2420.0,419.16 L2422.0,416.01 L2424.0,412.91 L2426.0,409.84 L2428.0,407.03 L2430.0,404.58 L2432.0,402.47 L2434.0,400.70 L2436.0,399.25 L2438.0,398.13 L2440.0,397.34 L2442.0,396.67 L2444.0,395.99 L2446.0,395.32 L2448.0,394.98 L2450.0,394.65 L2452.0,394.31" fill="none" stroke="#1e9be6" stroke-width="1.8" stroke-linejoin="round"/>
<path d="M628.0,497.97 L630.0,498.93 L632.0,500.87 L634.0,502.80 L636.0,504.62 L638.0,506.24 L640.0,507.66 L642.0,508.98 L644.0,510.31 L646.0,511.48 L648.0,511.86 L650.0,511.45 L652.0,510.41 L654.0,509.48 L656.0,508.75 L658.0,508.19 L660.0,507.70 L662.0,507.29 L664.0,507.35 L666.0,507.89 L668.0,508.83 L670.0,509.77 L672.0,510.89 L674.0,512.26 L676.0,513.87 L678.0,515.56 L680.0,517.25 L682.0,518.94 L684.0,520.63 L686.0,522.94 L688.0,526.26 L690.0,530.61 L692.0,535.36 L694.0,540.12 L696.0,544.87 L698.0,549.63 L700.0,554.00 L702.0,557.51 L704.0,560.16 L706.0,562.33 L708.0,564.51 L710.0,566.68 L712.0,568.74 L714.0,570.20 L716.0,571.06 L718.0,571.44 L720.0,571.82 L722.0,572.20 L724.0,572.59 L726.0,572.97 L728.0,573.35 L730.0,573.64 L732.0,573.61 L734.0,573.27 L736.0,572.71 L738.0,572.15 L740.0,571.22 L742.0,569.87 L744.0,568.10 L746.0,566.26 L748.0,564.42 L750.0,562.58 L752.0,561.20 L754.0,560.60 L756.0,560.78 L758.0,561.26 L760.0,561.75 L762.0,562.26 L764.0,562.86 L766.0,563.56 L768.0,564.32 L770.0,565.08 L772.0,566.23 L774.0,567.86 L776.0,569.97 L778.0,572.18 L780.0,574.38 L782.0,576.02 L784.0,576.40 L786.0,575.53 L788.0,573.96 L790.0,572.39 L792.0,570.82 L794.0,569.30 L796.0,568.03 L798.0,566.99 L800.0,566.15 L802.0,565.31 L804.0,564.47 L806.0,564.27 L808.0,564.79 L810.0,565.68 L812.0,566.31 L814.0,566.58 L816.0,567.16 L818.0,568.33 L820.0,569.37 L822.0,569.75 L824.0,569.18 L826.0,568.38 L828.0,567.43 L830.0,566.05 L832.0,564.23 L834.0,562.11 L836.0,559.98 L838.0,557.85 L840.0,555.71 L842.0,553.27 L844.0,550.55 L846.0,547.55 L848.0,544.55 L850.0,541.55 L852.0,538.55 L854.0,535.55 L856.0,532.55 L858.0,529.69 L860.0,527.73 L862.0,526.68 L864.0,526.40 L866.0,526.12 L868.0,525.84 L870.0,525.56 L872.0,525.28 L874.0,525.28 L876.0,525.56 L878.0,526.13 L880.0,526.42 L882.0,526.09 L884.0,525.16 L886.0,523.89 L888.0,522.96 L890.0,522.39 L892.0,522.18 L894.0,522.01 L896.0,521.84 L898.0,521.04 L900.0,519.07 L902.0,515.94 L904.0,512.28 L906.0,508.63 L908.0,504.98 L910.0,501.32 L912.0,497.67 L914.0,494.02 L916.0,490.68 L918.0,487.70 L920.0,485.07 L922.0,482.48 L924.0,479.89 L926.0,477.30 L928.0,474.70 L930.0,472.11 L932.0,469.86 L934.0,468.03 L936.0,466.62 L938.0,465.29 L940.0,463.97 L942.0,462.65 L944.0,461.32 L946.0,460.09 L948.0,458.95 L950.0,457.92 L952.0,456.91 L954.0,455.89 L956.0,454.87 L958.0,454.11 L960.0,453.91 L962.0,454.26 L964.0,454.92 L966.0,455.58 L968.0,456.24 L970.0,456.94 L972.0,457.94 L974.0,459.24 L976.0,460.83 L978.0,462.42 L980.0,464.00 L982.0,465.43 L984.0,466.33 L986.0,466.70 L988.0,466.33 L990.0,465.57 L992.0,464.43 L994.0,463.26 L996.0,462.10 L998.0,460.93 L1000.0,459.77 L1002.0,458.14 L1004.0,456.07 L1006.0,453.54 L1008.0,451.00 L1010.0,448.47 L1012.0,445.94 L1014.0,443.41 L1016.0,440.87 L1018.0,438.33 L1020.0,435.79 L1022.0,433.24 L1024.0,430.70 L1026.0,428.16 L1028.0,425.61 L1030.0,423.07 L1032.0,421.02 L1034.0,419.48 L1036.0,418.45 L1038.0,417.45 L1040.0,416.45 L1042.0,415.39 L1044.0,413.95 L1046.0,412.13 L1048.0,409.98 L1050.0,407.83 L1052.0,405.69 L1054.0,403.54 L1056.0,401.39 L1058.0,399.26 L1060.0,397.49 L1062.0,396.08 L1064.0,395.02 L1066.0,393.95 L1068.0,392.89 L1070.0,391.82 L1072.0,390.79 L1074.0,390.06 L1076.0,389.65 L1078.0,389.51 L1080.0,389.37 L1082.0,389.23 L1084.0,388.94 L1086.0,388.15 L1088.0,386.85 L1090.0,385.19 L1092.0,383.54 L1094.0,381.88 L1096.0,380.23 L1098.0,378.73 L1100.0,377.66 L1102.0,377.04 L1104.0,376.69 L1106.0,376.60 L1108.0,376.79 L1110.0,377.27 L1112.0,377.79 L1114.0,378.33 L1116.0,378.97 L1118.0,379.69 L1120.0,380.48 L1122.0,381.28 L1124.0,382.07 L1126.0,382.97 L1128.0,384.11 L1130.0,385.48 L1132.0,386.99 L1134.0,388.49 L1136.0,390.34 L1138.0,392.62 L1140.0,395.33 L1142.0,398.12 L1144.0,400.91 L1146.0,403.71 L1148.0,406.90 L1150.0,410.50 L1152.0,414.50 L1154.0,418.50 L1156.0,422.50 L1158.0,426.39 L1160.0,429.73 L1162.0,432.52 L1164.0,434.87 L1166.0,436.69 L1168.0,437.82 L1170.0,438.25 L1172.0,438.51 L1174.0,438.81 L1176.0,439.58 L1178.0,440.82 L1180.0,442.47 L1182.0,444.13 L1184.0,445.78 L1186.0,447.44 L1188.0,449.21 L1190.0,451.76 L1192.0,455.08 L1194.0,459.05 L1196.0,463.03 L1198.0,467.02 L1200.0,471.03 L1202.0,475.07 L1204.0,479.11 L1206.0,483.15 L1208.0,486.40 L1210.0,488.78 L1212.0,490.27 L1214.0,491.68 L1216.0,493.09 L1218.0,494.50 L1220.0,495.90 L1222.0,497.31 L1224.0,498.71 L1226.0,500.08 L1228.0,501.44 L1230.0,502.80 L1232.0,504.16 L1234.0,505.51 L1236.0,506.87 L1238.0,508.32 L1240.0,509.89 L1242.0,511.57 L1244.0,513.28 L1246.0,514.99 L1248.0,516.69 L1250.0,518.16 L1252.0,519.40 L1254.0,520.40 L1256.0,521.40 L1258.0,522.40 L1260.0,523.40 L1262.0,524.40 L1264.0,525.40 L1266.0,526.86 L1268.0,528.90 L1270.0,531.52 L1272.0,534.25 L1274.0,536.98 L1276.0,539.71 L1278.0,542.44 L1280.0,545.18 L1282.0,547.88 L1284.0,550.54 L1286.0,553.16 L1288.0,555.76 L1290.0,558.37 L1292.0,560.97 L1294.0,563.57 L1296.0,565.42 L1298.0,565.61 L1300.0,564.14 L1302.0,561.75 L1304.0,559.36 L1306.0,557.14 L1308.0,555.50 L1310.0,554.43 L1312.0,553.77 L1314.0,553.10 L1316.0,552.43 L1318.0,551.85 L1320.0,551.83 L1322.0,552.36 L1324.0,553.37 L1326.0,554.38 L1328.0,555.38 L1330.0,556.39 L1332.0,558.06 L1334.0,560.39 L1336.0,563.38 L1338.0,566.38 L1340.0,569.37 L1342.0,572.36 L1344.0,575.36 L1346.0,578.36 L1348.0,581.37 L1350.0,584.37 L1352.0,587.38 L1354.0,590.39 L1356.0,592.75 L1358.0,594.19 L1360.0,594.71 L1362.0,594.96 L1364.0,595.20 L1366.0,595.45 L1368.0,595.69 L1370.0,595.93 L1372.0,596.30 L1374.0,596.91 L1376.0,597.76 L1378.0,598.73 L1380.0,599.47 L1382.0,599.97 L1384.0,600.29 L1386.0,600.75 L1388.0,601.35 L1390.0,602.02 L1392.0,603.40 L1394.0,605.48 L1396.0,608.27 L1398.0,611.05 L1400.0,613.83 L1402.0,616.62 L1404.0,619.61 L1406.0,622.82 L1408.0,626.24 L1410.0,629.66 L1412.0,633.08 L1414.0,636.50 L1416.0,640.07 L1418.0,643.84 L1420.0,647.80 L1422.0,651.80 L1424.0,655.80 L1426.0,659.80 L1428.0,664.13 L1430.0,668.90 L1432.0,674.11 L1434.0,679.43 L1436.0,684.56 L1438.0,688.75 L1440.0,692.01 L1442.0,694.53 L1444.0,697.04 L1446.0,699.55 L1448.0,702.04 L1450.0,704.36 L1452.0,706.52 L1454.0,708.53 L1456.0,710.54 L1458.0,712.55 L1460.0,714.57 L1462.0,716.58 L1464.0,718.99 L1466.0,722.04 L1468.0,725.75 L1470.0,729.71 L1472.0,733.68 L1474.0,737.65 L1476.0,741.70 L1478.0,745.91 L1480.0,750.28 L1482.0,754.73 L1484.0,759.19 L1486.0,763.64 L1488.0,768.09 L1490.0,772.55 L1492.0,777.23 L1494.0,782.15 L1496.0,787.30 L1498.0,792.45 L1500.0,797.60 L1502.0,802.75 L1504.0,807.90 L1506.0,812.72 L1508.0,816.60 L1510.0,819.55 L1512.0,821.87 L1514.0,824.20 L1516.0,826.71 L1518.0,829.44 L1520.0,832.38 L1522.0,835.37 L1524.0,838.45 L1526.0,841.87 L1528.0,845.64 L1530.0,849.21 L1532.0,850.92 L1534.0,850.77 L1536.0,849.04 L1538.0,846.33 L1540.0,842.65 L1542.0,838.19 L1544.0,833.69 L1546.0,829.09 L1548.0,824.41 L1550.0,819.68 L1552.0,815.11 L1554.0,810.77 L1556.0,806.66 L1558.0,802.64 L1560.0,798.57 L1562.0,794.03 L1564.0,789.01 L1566.0,783.57 L1568.0,778.13 L1570.0,772.69 L1572.0,767.24 L1574.0,761.93 L1576.0,756.76 L1578.0,751.71 L1580.0,746.67 L1582.0,741.62 L1584.0,736.58 L1586.0,731.53 L1588.0,726.49 L1590.0,721.44 L1592.0,717.16 L1594.0,713.65 L1596.0,710.90 L1598.0,708.15 L1600.0,705.22 L1602.0,702.11 L1604.0,698.82 L1606.0,695.53 L1608.0,692.23 L1610.0,688.94 L1612.0,686.63 L1614.0,685.84 L1616.0,686.55 L1618.0,687.80 L1620.0,688.51 L1622.0,688.26 L1624.0,687.04 L1626.0,685.38 L1628.0,683.73 L1630.0,682.18 L1632.0,680.95 L1634.0,680.02 L1636.0,679.30 L1638.0,678.57 L1640.0,677.85 L1642.0,677.12 L1644.0,676.18 L1646.0,675.00 L1648.0,673.61 L1650.0,672.21 L1652.0,670.81 L1654.0,669.56 L1656.0,669.04 L1658.0,669.25 L1660.0,669.86 L1662.0,669.88 L1664.0,669.28 L1666.0,668.27 L1668.0,667.28 L1670.0,666.40 L1672.0,665.61 L1674.0,664.90 L1676.0,664.19 L1678.0,663.76 L1680.0,663.80 L1682.0,664.42 L1684.0,665.58 L1686.0,667.09 L1688.0,668.86 L1690.0,670.62 L1692.0,672.34 L1694.0,674.01 L1696.0,675.61 L1698.0,677.19 L1700.0,678.02 L1702.0,677.60 L1704.0,675.92 L1706.0,673.75 L1708.0,671.76 L1710.0,670.09 L1712.0,668.76 L1714.0,667.57 L1716.0,666.38 L1718.0,665.19 L1720.0,664.29 L1722.0,663.80 L1724.0,663.70 L1726.0,663.70 L1728.0,663.61 L1730.0,662.60 L1732.0,660.66 L1734.0,657.90 L1736.0,655.14 L1738.0,652.30 L1740.0,649.30 L1742.0,646.13 L1744.0,642.88 L1746.0,639.63 L1748.0,636.36 L1750.0,633.06 L1752.0,629.72 L1754.0,626.39 L1756.0,623.05 L1758.0,619.71 L1760.0,616.37 L1762.0,613.88 L1764.0,612.34 L1766.0,611.74 L1768.0,611.24 L1770.0,610.74 L1772.0,610.23 L1774.0,609.73 L1776.0,609.92 L1778.0,610.85 L1780.0,612.09 L1782.0,612.65 L1784.0,612.67 L1786.0,612.94 L1788.0,613.77 L1790.0,614.97 L1792.0,616.17 L1794.0,616.93 L1796.0,617.01 L1798.0,616.40 L1800.0,615.55 L1802.0,614.70 L1804.0,613.80 L1806.0,612.84 L1808.0,611.84 L1810.0,610.83 L1812.0,609.82 L1814.0,608.81 L1816.0,607.80 L1818.0,606.74 L1820.0,605.62 L1822.0,604.45 L1824.0,603.29 L1826.0,602.12 L1828.0,600.96 L1830.0,599.75 L1832.0,598.26 L1834.0,596.50 L1836.0,594.50 L1838.0,592.62 L1840.0,590.92 L1842.0,589.40 L1844.0,588.03 L1846.0,587.24 L1848.0,587.03 L1850.0,587.32 L1852.0,587.62 L1854.0,587.94 L1856.0,588.26 L1858.0,588.59 L1860.0,588.92 L1862.0,589.26 L1864.0,589.59 L1866.0,589.86 L1868.0,590.07 L1870.0,590.21 L1872.0,590.33 L1874.0,590.45 L1876.0,590.57 L1878.0,591.14 L1880.0,592.17 L1882.0,594.20 L1884.0,597.07 L1886.0,600.76 L1888.0,604.74 L1890.0,608.72 L1892.0,612.53 L1894.0,616.16 L1896.0,619.61 L1898.0,622.52 L1900.0,624.31 L1902.0,625.00 L1904.0,625.13 L1906.0,625.26 L1908.0,625.77 L1910.0,626.72 L1912.0,628.09 L1914.0,629.50 L1916.0,630.91 L1918.0,632.31 L1920.0,633.58 L1922.0,634.70 L1924.0,635.70 L1926.0,636.70 L1928.0,637.70 L1930.0,638.62 L1932.0,639.25 L1934.0,639.61 L1936.0,639.76 L1938.0,639.92 L1940.0,640.08 L1942.0,640.24 L1944.0,640.37 L1946.0,640.42 L1948.0,640.38 L1950.0,640.30 L1952.0,640.21 L1954.0,640.13 L1956.0,639.88 L1958.0,639.30 L1960.0,638.38 L1962.0,637.30 L1964.0,636.23 L1966.0,635.15 L1968.0,634.32 L1970.0,633.83 L1972.0,633.68 L1974.0,633.61 L1976.0,633.54 L1978.0,633.47 L1980.0,633.53 L1982.0,633.73 L1984.0,634.07 L1986.0,634.42 L1988.0,634.76 L1990.0,635.02 L1992.0,634.72 L1994.0,633.85 L1996.0,632.51 L1998.0,631.16 L2000.0,629.82 L2002.0,628.69 L2004.0,628.15 L2006.0,628.23 L2008.0,628.69 L2010.0,629.31 L2012.0,630.11 L2014.0,631.08 L2016.0,632.07 L2018.0,633.06 L2020.0,634.06 L2022.0,635.07 L2024.0,636.08 L2026.0,637.36 L2028.0,638.96 L2030.0,640.88 L2032.0,642.87 L2034.0,644.85 L2036.0,646.84 L2038.0,648.83 L2040.0,650.82 L2042.0,653.07 L2044.0,655.73 L2046.0,658.81 L2048.0,662.03 L2050.0,665.24 L2052.0,668.46 L2054.0,671.31 L2056.0,673.76 L2058.0,675.80 L2060.0,677.80 L2062.0,679.80 L2064.0,681.82 L2066.0,684.06 L2068.0,686.53 L2070.0,689.19 L2072.0,691.85 L2074.0,694.51 L2076.0,697.18 L2078.0,699.78 L2080.0,702.00 L2082.0,703.84 L2084.0,705.35 L2086.0,706.86 L2088.0,708.37 L2090.0,709.88 L2092.0,711.37 L2094.0,712.74 L2096.0,714.00 L2098.0,715.16 L2100.0,716.33 L2102.0,717.49 L2104.0,718.66 L2106.0,719.79 L2108.0,720.78 L2110.0,721.64 L2112.0,722.39 L2114.0,723.15 L2116.0,723.81 L2118.0,724.34 L2120.0,724.73 L2122.0,725.06 L2124.0,725.39 L2126.0,725.72 L2128.0,726.05 L2130.0,726.21 L2132.0,726.08 L2134.0,725.68 L2136.0,725.19 L2138.0,724.69 L2140.0,724.03 L2142.0,723.19 L2144.0,722.18 L2146.0,721.17 L2148.0,720.17 L2150.0,719.04 L2152.0,717.45 L2154.0,715.40 L2156.0,713.01 L2158.0,710.61 L2160.0,708.21 L2162.0,706.00 L2164.0,704.20 L2166.0,702.81 L2168.0,701.64 L2170.0,700.48 L2172.0,699.31 L2174.0,698.15 L2176.0,696.97 L2178.0,695.76 L2180.0,694.53 L2182.0,693.28 L2184.0,692.03 L2186.0,690.59 L2188.0,688.91 L2190.0,687.01 L2192.0,685.06 L2194.0,683.12 L2196.0,681.18 L2198.0,679.24 L2200.0,677.14 L2202.0,674.86 L2204.0,672.42 L2206.0,669.95 L2208.0,667.48 L2210.0,665.01 L2212.0,662.47 L2214.0,659.86 L2216.0,657.18 L2218.0,654.50 L2220.0,651.83 L2222.0,649.15 L2224.0,646.48 L2226.0,643.83 L2228.0,641.20 L2230.0,638.59 L2232.0,635.98 L2234.0,633.37 L2236.0,630.81 L2238.0,628.37 L2240.0,626.04 L2242.0,623.78 L2244.0,621.52 L2246.0,619.26 L2248.0,616.63 L2250.0,613.63 L2252.0,610.25 L2254.0,606.88 L2256.0,603.50 L2258.0,600.26 L2260.0,597.53 L2262.0,595.31 L2264.0,593.48 L2266.0,591.65 L2268.0,589.81 L2270.0,587.98 L2272.0,586.15 L2274.0,583.95 L2276.0,581.03 L2278.0,577.38 L2280.0,573.36 L2282.0,569.35 L2284.0,565.33 L2286.0,561.36 L2288.0,558.40 L2290.0,556.44 L2292.0,555.43 L2294.0,554.42 L2296.0,553.41 L2298.0,552.80 L2300.0,552.64 L2302.0,552.93 L2304.0,553.27 L2306.0,553.90 L2308.0,554.84 L2310.0,556.09 L2312.0,557.33 L2314.0,558.57 L2316.0,558.90 L2318.0,558.17 L2320.0,556.36 L2322.0,554.39 L2324.0,552.42 L2326.0,550.45 L2328.0,548.47 L2330.0,546.48 L2332.0,544.47 L2334.0,542.45 L2336.0,540.43 L2338.0,538.24 L2340.0,535.16 L2342.0,531.19 L2344.0,526.52 L2346.0,521.85 L2348.0,517.18 L2350.0,512.51 L2352.0,507.84 L2354.0,503.13 L2356.0,498.31 L2358.0,493.41 L2360.0,488.44 L2362.0,483.48 L2364.0,478.32 L2366.0,472.34 L2368.0,465.55 L2370.0,458.14 L2372.0,450.67 L2374.0,443.01 L2376.0,435.17 L2378.0,427.22 L2380.0,420.04 L2382.0,414.39 L2384.0,410.27 L2386.0,406.92 L2388.0,404.15 L2390.0,402.28 L2392.0,401.30 L2394.0,400.63 L2396.0,400.13 L2398.0,399.86 L2400.0,399.80 L2402.0,399.80 L2404.0,399.50 L2406.0,398.87 L2408.0,397.90 L2410.0,396.90 L2412.0,396.29 L2414.0,396.06 L2416.0,396.21 L2418.0,396.37 L2420.0,396.52 L2422.0,396.45 L2424.0,396.10 L2426.0,395.49 L2428.0,394.84 L2430.0,394.18 L2432.0,393.24 L2434.0,391.84 L2436.0,390.00 L2438.0,388.00 L2440.0,386.47 L2442.0,385.54 L2444.0,385.20 L2446.0,384.97 L2448.0,384.75 L2450.0,384.52 L2452.0,384.41" fill="none" stroke="#f2a01c" stroke-width="1.6" stroke-linejoin="round"/>
<path d="M1093.5,461 L1099.3,392 L1105,461 Z" fill="#c00d0d"/>
<rect x="1038" y="460" width="122" height="68" rx="3" fill="#c00d0d"/>
<text x="1099" y="502" text-anchor="middle" font-family="DejaVu Sans, sans-serif" font-size="20.2" fill="#fff" stroke="#fff" stroke-width="0.35">SELL</text>
<path d="M1576,895 L1563.5,831 L1590,895 Z" fill="#1e6806"/>
<rect x="1530" y="894" width="124" height="53" rx="3" fill="#1e6806"/>
<text x="1592" y="929" text-anchor="middle" font-family="DejaVu Sans, sans-serif" font-size="20.2" fill="#fff" stroke="#fff" stroke-width="0.35">BUY</text>
<path d="M2159.6,799 L2156,727.6 L2172.4,799 Z" fill="#1e6806"/>
<rect x="2098" y="798" width="144" height="62" rx="3" fill="#1e6806"/>
<text x="2170" y="837" text-anchor="middle" font-family="DejaVu Sans, sans-serif" font-size="20.2" fill="#fff" stroke="#fff" stroke-width="0.35">BUY</text>
</svg>
<div class="b" style="left:627px;top:1064px;width:1823px;height:1px;background:#2f3542;"></div>
<div class="t" style="left:738.1px;top:1080.5px;font-size:17.45px;color:#9aa6bd;letter-spacing:0.52px;">01:00</div>
<div class="t" style="left:961.3px;top:1080.5px;font-size:17.45px;color:#9aa6bd;letter-spacing:0.52px;">02:00</div>
<div class="t" style="left:1184.4px;top:1080.5px;font-size:17.45px;color:#9aa6bd;letter-spacing:0.52px;">03:00</div>
<div class="t" style="left:1407.6px;top:1080.5px;font-size:17.45px;color:#9aa6bd;letter-spacing:0.52px;">04:00</div>
<div class="t" style="left:1630.7px;top:1080.5px;font-size:17.45px;color:#9aa6bd;letter-spacing:0.52px;">05:00</div>
<div class="t" style="left:1853.9px;top:1080.5px;font-size:17.45px;color:#9aa6bd;letter-spacing:0.52px;">06:00</div>
<div class="t" style="left:2077.0px;top:1080.5px;font-size:17.45px;color:#9aa6bd;letter-spacing:0.52px;">07:00</div>
<div class="t" style="left:2300.2px;top:1080.5px;font-size:17.45px;color:#9aa6bd;letter-spacing:0.52px;">08:00</div>
<div class="b" style="left:641px;top:1019px;width:32px;height:32px;background:#2f3542;border-radius:6px;"></div>
<svg class="i" style="left:646px;top:1024px;" width="22" height="22" viewBox="0 0 22 22"><path d="M7.3,8 A6.9,6.9 0 1 0 11,6.2" fill="none" stroke="#c0c8d6" stroke-width="1.9" stroke-linecap="round"/><path d="M12.5,3 L9.6,6.1 L12.7,8.8" fill="none" stroke="#c0c8d6" stroke-width="1.9" stroke-linecap="round" stroke-linejoin="round"/></svg>
<svg class="i" style="left:642.4px;top:118.8px" width="33" height="33" viewBox="0 0 33 33"><rect x="0.0" y="6.0" width="26.4" height="26.4" rx="6" fill="#2f3542"/><clipPath id="fc15"><rect x="0" y="0" width="24" height="24" rx="5"/></clipPath><g transform="translate(1.2,7.2)" clip-path="url(#fc15)"><rect width="24" height="24" fill="#f5f5f5"/><rect y="0.00" width="24" height="1.85" fill="#ef4b5b"/><rect y="3.70" width="24" height="1.85" fill="#ef4b5b"/><rect y="7.40" width="24" height="1.85" fill="#ef4b5b"/><rect y="11.10" width="24" height="1.85" fill="#ef4b5b"/><rect y="14.80" width="24" height="1.85" fill="#ef4b5b"/><rect y="18.50" width="24" height="1.85" fill="#ef4b5b"/><rect y="22.20" width="24" height="1.85" fill="#ef4b5b"/><rect width="11" height="13" fill="#41479b"/></g><rect x="6.0" y="0.0" width="26.4" height="26.4" rx="6" fill="#2f3542"/><clipPath id="fc16"><rect x="0" y="0" width="24" height="24" rx="5"/></clipPath><g transform="translate(7.2,1.2)" clip-path="url(#fc16)"><rect width="24" height="24" fill="#41479b"/><svg width="12" height="12" viewBox="0 0 12 12" overflow="hidden"><rect width="12" height="12" fill="#41479b"/><path d="M0,0 L12,12 M12,0 L0,12" stroke="#f5f5f5" stroke-width="2.40"/><path d="M0,0 L12,12 M12,0 L0,12" stroke="#ef4b5b" stroke-width="0.84"/><path d="M6.0,0 V12 M0,6.0 H12" stroke="#f5f5f5" stroke-width="3.60"/><path d="M6.0,0 V12 M0,6.0 H12" stroke="#ef4b5b" stroke-width="2.04"/></svg><g fill="#f5f5f5"><circle cx="6" cy="18" r="1.7"/><circle cx="18" cy="5" r="0.9"/><circle cx="21.5" cy="8.5" r="0.9"/><circle cx="13.5" cy="11" r="0.8"/><circle cx="19" cy="12" r="0.6"/><circle cx="18" cy="18" r="0.9"/></g></g></svg>
<div class="t" style="left:690.5px;top:123.3px;font-size:23.02px;color:#fff;font-weight:700;letter-spacing:-0.32px;">AUDUSD</div>
<div class="t" style="left:805.5px;top:124.4px;font-size:21.74px;color:#e8ecf2;">O</div>
<div class="t" style="left:826.7px;top:124.7px;font-size:21.54px;color:#3bd5c1;letter-spacing:0.37px;">0.64771</div>
<div class="t" style="left:911.9px;top:124.4px;font-size:21.74px;color:#e8ecf2;">H</div>
<div class="t" style="left:933.6px;top:124.7px;font-size:21.53px;color:#3bd5c1;letter-spacing:0.35px;">0.64775</div>
<div class="t" style="left:1019.3px;top:124.4px;font-size:21.74px;color:#e8ecf2;">L</div>
<div class="t" style="left:1037.1px;top:124.7px;font-size:21.57px;color:#3bd5c1;letter-spacing:0.41px;">0.64760</div>
<div class="t" style="left:1122.6px;top:124.4px;font-size:21.74px;color:#e8ecf2;">C</div>
<div class="t" style="left:1143.7px;top:124.7px;font-size:21.53px;color:#3bd5c1;letter-spacing:0.35px;">0.64775</div>
<svg class="i" style="left:642px;top:190px;" width="22" height="16" viewBox="0 0 22 16"><path d="M2.6,3.6 L10.8,11.8 L19,3.6" fill="none" stroke="#c5cbd7" stroke-width="2"/></svg>
<div class="t" style="left:671.8px;top:187.8px;font-size:20.52px;color:#c5cbd7;font-weight:700;letter-spacing:-0.51px;">SMA</div>
<div class="t" style="left:728.7px;top:187.8px;font-size:20.75px;color:#16a7ef;letter-spacing:0.66px;">0.64806</div>
<div class="t" style="left:671.1px;top:233.1px;font-size:20.10px;color:#c5cbd7;font-weight:700;letter-spacing:-0.11px;">EMA</div>
<div class="t" style="left:727.9px;top:233.2px;font-size:20.12px;color:#ffa00e;letter-spacing:0.57px;">0.64777</div>
<div class="t" style="left:1758.0px;top:124.5px;font-size:21.45px;color:#c5cbd7;font-weight:700;letter-spacing:0.91px;">M1</div>
<svg class="i" style="left:1815px;top:115px;" width="270" height="42" viewBox="0 0 270 42"><g fill="none" stroke="#c5cbd7" stroke-width="1.9" stroke-linecap="round" stroke-linejoin="round"><path d="M11.9,8.8 V32.5 M23.1,13.2 V32.5"/><rect x="8.6" y="13.8" width="7.7" height="14.3" rx="1.5" fill="#2f3542"/><rect x="19.9" y="18.7" width="7.7" height="13.8" rx="1.5" fill="#2f3542"/><rect x="64.1" y="10.5" width="21.3" height="20.9" rx="3.8"/><circle cx="130.8" cy="19.6" r="8.8"/><path d="M137.2,26.4 L142.2,31.4 M126.5,19.6 H135"/><circle cx="188.7" cy="19.6" r="8.8"/><path d="M195.1,26.4 L200.1,31.4 M184.5,19.6 H193 M188.7,15.4 V23.8"/><path d="M238,18.2 V12.3 H243.6 M249.5,17.6 L256.8,10.5 M251.5,10.5 H256.8 V15.8 M236.9,30.9 L244,23.8 M236.9,25.2 V30.9 H242.6 M255.7,22.6 V29.8 H249.5"/></g></svg>
<div class="b" style="left:2101px;top:119px;width:1px;height:32px;background:#454e60;"></div>
<div class="b" style="left:2115px;top:110px;width:51px;height:51px;background:#465165;border-radius:10px;"></div>
<svg class="i" style="left:2126px;top:121px;" width="30" height="30" viewBox="0 0 30 30"><circle cx="14.8" cy="14.8" r="8.6" fill="none" stroke="#2bbfea" stroke-width="2.1"/><path d="M14.8,3 V7 M14.8,22.6 V26.6 M3,14.8 H7 M22.6,14.8 H26.6" stroke="#2bbfea" stroke-width="2.4" stroke-linecap="round"/></svg>
<svg class="i" style="left:2180px;top:118px;" width="270" height="36" viewBox="0 0 270 36"><g fill="none" stroke="#c5cbd7" stroke-width="1.9" stroke-linecap="round" stroke-linejoin="round"><path d="M8.4,27.2 L23.5,12 Q26,9.5 27.8,11.3 Q29.6,13.1 27.1,15.6 L12,30.8 L7.3,32.1 Z M21.5,14 L25.1,17.6"/><path d="M64.6,28.6 L69.5,15.5 L71.5,20 L75.4,8.4 L79.3,20 L81.3,15.5 L86.8,28.6 M68,19.8 H72 M78.8,19.8 H82.6"/><path d="M190.9,7.4 L201,12.9 L190.9,18.4 L180.8,12.9 Z M180.8,17.7 L190.9,23.2 L201,17.7 M180.8,22.3 L190.9,27.8 L201,22.3"/><path transform="translate(236.5,5.4)" d="M12.00,1.30 L12.95,1.60 L13.78,2.41 L14.41,3.52 L14.86,4.65 L15.23,5.56 L15.70,6.09 L16.39,6.23 L17.37,6.10 L18.58,5.92 L19.85,5.91 L20.97,6.22 L21.70,6.90 L21.92,7.87 L21.63,8.99 L20.98,10.09 L20.22,11.05 L19.63,11.83 L19.40,12.50 L19.63,13.17 L20.22,13.95 L20.98,14.91 L21.63,16.01 L21.92,17.13 L21.70,18.10 L20.97,18.78 L19.85,19.09 L18.58,19.08 L17.37,18.90 L16.39,18.77 L15.70,18.91 L15.23,19.44 L14.86,20.35 L14.41,21.48 L13.78,22.59 L12.95,23.40 L12.00,23.70 L11.05,23.40 L10.22,22.59 L9.59,21.48 L9.14,20.35 L8.77,19.44 L8.30,18.91 L7.61,18.77 L6.63,18.90 L5.42,19.08 L4.15,19.09 L3.03,18.78 L2.30,18.10 L2.08,17.13 L2.37,16.01 L3.02,14.91 L3.78,13.95 L4.37,13.17 L4.60,12.50 L4.37,11.83 L3.78,11.05 L3.02,10.09 L2.37,8.99 L2.08,7.87 L2.30,6.90 L3.03,6.22 L4.15,5.91 L5.42,5.92 L6.63,6.10 L7.61,6.23 L8.30,6.09 L8.77,5.56 L9.14,4.65 L9.59,3.52 L10.22,2.41 L11.05,1.60 L12.00,1.30 Z"/><circle cx="248.7" cy="17.9" r="4"/></g></svg>
<div class="t" style="left:2304px;top:120.5px;font:italic 400 24px/1 'Liberation Serif',serif;color:#c5cbd7;letter-spacing:-0.5px;-webkit-text-stroke:0.8px #c5cbd7;">fx</div>
</body></html>
